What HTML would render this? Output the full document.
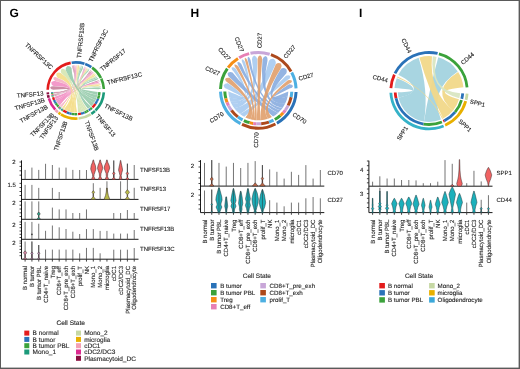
<!DOCTYPE html>
<html><head><meta charset="utf-8"><title>Figure</title>
<style>html,body{margin:0;padding:0;background:#fff;} svg{display:block;will-change:transform;}</style>
</head><body>
<svg width="520" height="369" viewBox="0 0 520 369" text-rendering="geometricPrecision" font-family='"Liberation Sans", sans-serif'>
<rect width="520" height="369" fill="#fff"/>
<defs><filter id="soft" x="0" y="0" width="1" height="1"><feGaussianBlur stdDeviation="0.3"/></filter></defs>
<g filter="url(#soft)">
<rect width="520" height="369" fill="#fff"/>
<path d="M53.85 92.03 A22 22 0 0 0 53.92 92.8 Q80.67 91.96 73.27 67.94 Q72.93 65.46 72.51 64.89 Q72.24 65.55 72.54 68.03 Q80.84 92.1 53.85 92.03 Z" fill="#c0708e" fill-opacity="0.8"/>
<path d="M53.92 92.8 A22 22 0 0 0 54.01 93.56 Q77.04 90.78 89.69 72.55 Q91.17 70.53 91.25 69.8 Q90.58 70.09 89.06 72.08 Q77.2 91.05 53.92 92.8 Z" fill="#c0708e" fill-opacity="0.8"/>
<path d="M54.1 94.13 A22 22 0 0 0 54.2 94.69 Q84.95 87.53 53.52 86.15 Q51.01 85.97 50.14 87.62 Q50.62 89.42 53.11 89.81 Q85.07 86.85 54.1 94.13 Z" fill="#c0708e" fill-opacity="0.8"/>
<path d="M54.2 94.69 A22 22 0 0 0 54.28 95.09 Q80.38 91.47 74.22 67.86 Q73.98 65.37 73.57 64.77 Q73.27 65.43 73.46 67.92 Q80.57 91.55 54.2 94.69 Z" fill="#c0708e" fill-opacity="0.8"/>
<path d="M54.28 95.09 A22 22 0 0 0 54.35 95.41 Q78.23 91.08 83.94 69.31 Q84.8 66.96 84.79 66.29 Q84.35 66.8 83.47 69.14 Q78.35 91.19 54.28 95.09 Z" fill="#c0708e" fill-opacity="0.8"/>
<path d="M54.35 95.41 A22 22 0 0 0 54.45 95.8 Q76.77 90.14 90.47 73.18 Q92.04 71.23 92.14 70.5 Q91.45 70.75 89.85 72.67 Q76.93 90.34 54.35 95.41 Z" fill="#c0708e" fill-opacity="0.8"/>
<path d="M54.45 95.8 A22 22 0 0 0 54.55 96.19 Q75.36 88.16 96.77 81.82 Q99.06 80.79 99.46 80.15 Q98.72 80.02 96.41 81 Q75.46 88.42 54.45 95.8 Z" fill="#c0708e" fill-opacity="0.8"/>
<path d="M54.71 96.75 A22 22 0 0 0 55.65 99.32 Q84.28 87.63 55.15 81.07 Q52.7 80.42 51.25 82.5 Q51.2 85.04 53.56 85.96 Q84.83 87.12 54.71 96.75 Z" fill="#f080bc" fill-opacity="0.8"/>
<path d="M55.65 99.32 A22 22 0 0 0 56.51 101.08 Q79.6 90.17 75.53 67.8 Q75.41 65.3 74.86 64.69 Q74.36 65.34 74.42 67.84 Q80.04 90.54 55.65 99.32 Z" fill="#f080bc" fill-opacity="0.8"/>
<path d="M56.51 101.08 A22 22 0 0 0 57.31 102.42 Q77.38 89.46 84.83 69.67 Q85.76 67.35 85.67 66.64 Q85.1 67.08 84.12 69.38 Q77.71 89.82 56.51 101.08 Z" fill="#f080bc" fill-opacity="0.8"/>
<path d="M57.31 102.42 A22 22 0 0 0 58.44 104.02 Q75.66 88.13 91.51 74.11 Q93.16 72.24 93.17 71.39 Q92.33 71.48 90.62 73.31 Q76.11 88.66 57.31 102.42 Z" fill="#f080bc" fill-opacity="0.8"/>
<path d="M58.44 104.02 A22 22 0 0 0 59.71 105.5 Q74.11 85.8 97.3 83.23 Q99.64 82.33 100.02 81.53 Q99.21 81.17 96.85 82 Q74.49 86.4 58.44 104.02 Z" fill="#f080bc" fill-opacity="0.8"/>
<path d="M59.97 105.78 A22 22 0 0 0 60.45 106.26 Q82.79 86.86 57.1 77.64 Q54.86 76.48 53.39 77.67 Q53.1 79.55 55.23 80.89 Q83.31 86.25 59.97 105.78 Z" fill="#f4a8bc" fill-opacity="0.8"/>
<path d="M60.45 106.26 A22 22 0 0 0 60.8 106.59 Q78.45 88.95 76.5 67.81 Q76.52 65.31 76.16 64.68 Q75.79 65.3 75.73 67.8 Q78.69 89.03 60.45 106.26 Z" fill="#f4a8bc" fill-opacity="0.8"/>
<path d="M60.8 106.59 A22 22 0 0 0 61.08 106.85 Q76.41 88.42 85.47 69.96 Q86.5 67.68 86.54 67.01 Q86.06 67.48 85.01 69.75 Q76.58 88.52 60.8 106.59 Z" fill="#f4a8bc" fill-opacity="0.8"/>
<path d="M61.08 106.85 A22 22 0 0 0 61.44 107.17 Q74.84 87.28 92.23 74.84 Q93.99 73.06 94.16 72.34 Q93.44 72.51 91.65 74.25 Q75.05 87.48 61.08 106.85 Z" fill="#f4a8bc" fill-opacity="0.8"/>
<path d="M61.44 107.17 A22 22 0 0 0 61.81 107.48 Q73.57 85.13 97.64 84.29 Q100.02 83.54 100.49 82.94 Q99.77 82.71 97.37 83.42 Q73.71 85.39 61.44 107.17 Z" fill="#f4a8bc" fill-opacity="0.8"/>
<path d="M62.26 107.84 A22 22 0 0 0 63.02 108.41 Q77.75 88.54 77.45 67.86 Q77.57 65.36 77.25 64.72 Q76.86 65.32 76.7 67.82 Q78.08 88.68 62.26 107.84 Z" fill="#f2d46c" fill-opacity="0.8"/>
<path d="M63.02 108.41 A22 22 0 0 0 63.82 108.95 Q74.17 86.72 92.9 75.58 Q94.74 73.88 94.96 73.18 Q94.24 73.32 92.37 74.98 Q74.47 86.97 63.02 108.41 Z" fill="#f2d46c" fill-opacity="0.8"/>
<path d="M64.14 109.16 A22 22 0 0 0 67.4 110.83 Q80.38 86.83 61.09 73.21 Q59.1 71.62 56.7 73.12 Q55.44 75.65 57.21 77.48 Q81.95 86.26 64.14 109.16 Z" fill="#f2d878" fill-opacity="0.8"/>
<path d="M67.4 110.83 A22 22 0 0 0 69.88 111.69 Q75.92 87.79 78.91 68.01 Q79.15 65.52 78.62 64.83 Q77.95 65.39 77.65 67.88 Q76.74 88 67.4 110.83 Z" fill="#f2d878" fill-opacity="0.8"/>
<path d="M69.88 111.69 A22 22 0 0 0 71.92 112.16 Q73.81 87.15 86.43 70.44 Q87.54 68.2 87.45 67.45 Q86.8 67.83 85.65 70.05 Q74.44 87.34 69.88 111.69 Z" fill="#f2d878" fill-opacity="0.8"/>
<path d="M71.92 112.16 A22 22 0 0 0 74.52 112.46 Q71.6 85.69 93.89 76.78 Q95.81 75.18 95.9 74.28 Q95.01 74.18 93.03 75.73 Q72.36 85.99 71.92 112.16 Z" fill="#f2d878" fill-opacity="0.8"/>
<path d="M74.52 112.46 A22 22 0 0 0 77.14 112.46 Q70.11 83.67 98.04 85.93 Q100.46 85.31 100.91 84.48 Q100.13 83.94 97.69 84.48 Q70.77 83.99 74.52 112.46 Z" fill="#f2d878" fill-opacity="0.8"/>
<path d="M77.91 112.4 A22 22 0 0 0 80.61 111.97 Q76.5 87.23 65.53 70.26 Q64.02 68.22 61.58 68.94 Q59.97 70.89 61.24 73.08 Q78.04 86.51 77.91 112.4 Z" fill="#cfe2a8" fill-opacity="0.8"/>
<path d="M80.61 111.97 A22 22 0 0 0 82.5 111.45 Q72.86 87.79 80.21 68.23 Q80.6 65.76 80.19 65.05 Q79.56 65.58 79.11 68.04 Q73.51 87.72 80.61 111.97 Z" fill="#cfe2a8" fill-opacity="0.8"/>
<path d="M82.5 111.45 A22 22 0 0 0 83.97 110.93 Q70.98 87.32 87.27 70.91 Q88.48 68.72 88.47 68 Q87.85 68.37 86.61 70.54 Q71.45 87.28 82.5 111.45 Z" fill="#cfe2a8" fill-opacity="0.8"/>
<path d="M83.97 110.93 A22 22 0 0 0 85.75 110.12 Q68.95 85.95 94.69 77.91 Q96.72 76.44 96.91 75.62 Q96.07 75.53 94 76.94 Q69.5 85.99 83.97 110.93 Z" fill="#cfe2a8" fill-opacity="0.8"/>
<path d="M85.75 110.12 A22 22 0 0 0 87.46 109.16 Q67.79 84.07 98.29 87.42 Q100.75 86.97 101.27 86.26 Q100.55 85.75 98.07 86.13 Q68.21 84.15 85.75 110.12 Z" fill="#cfe2a8" fill-opacity="0.8"/>
<path d="M87.94 108.85 A22 22 0 0 0 89.42 107.78 Q71.11 88.55 81.21 68.45 Q81.74 66.01 81.49 65.31 Q80.98 65.84 80.4 68.27 Q71.62 88.35 87.94 108.85 Z" fill="#80c09c" fill-opacity="0.8"/>
<path d="M89.42 107.78 A22 22 0 0 0 90.8 106.59 Q67.72 86.53 95.27 78.83 Q97.37 77.48 97.69 76.79 Q96.93 76.77 94.8 78.08 Q68.12 86.43 89.42 107.78 Z" fill="#80c09c" fill-opacity="0.8"/>
<path d="M91.22 106.19 A22 22 0 0 0 93.97 102.91 Q72.23 89.68 71.57 68.2 Q70.59 65.84 67.57 66.02 Q65.06 67.7 65.71 70.17 Q74.13 88.52 91.22 106.19 Z" fill="#88c4a0" fill-opacity="0.8"/>
<path d="M93.97 102.91 A22 22 0 0 0 95.51 100.26 Q69.44 90.11 82.72 68.88 Q83.37 66.46 82.92 65.68 Q82.13 66.11 81.4 68.5 Q70.07 89.61 93.97 102.91 Z" fill="#88c4a0" fill-opacity="0.8"/>
<path d="M95.51 100.26 A22 22 0 0 0 96.48 98.01 Q68.01 90.02 88.25 71.52 Q89.55 69.38 89.5 68.61 Q88.79 68.91 87.44 71.01 Q68.4 89.64 95.51 100.26 Z" fill="#88c4a0" fill-opacity="0.8"/>
<path d="M96.48 98.01 A22 22 0 0 0 97.32 95.07 Q66.11 88.74 96.07 80.28 Q98.25 79.05 98.47 78.14 Q97.59 77.84 95.37 79 Q66.45 88.38 96.48 98.01 Z" fill="#88c4a0" fill-opacity="0.8"/>
<path d="M97.32 95.07 A22 22 0 0 0 97.75 92.03 Q65.49 87.45 98.46 89.21 Q100.95 88.94 101.52 88.12 Q100.81 87.43 98.32 87.61 Q65.61 87.13 97.32 95.07 Z" fill="#88c4a0" fill-opacity="0.8"/>
<path d="M46.47 92.55 A29.4 29.4 0 0 0 46.69 94.59 L49.26 94.23 A26.8 26.8 0 0 1 49.07 92.37Z" fill="#8a0d40"/>
<path d="M46.8 95.35 A29.4 29.4 0 0 0 47.4 98.11 L49.91 97.44 A26.8 26.8 0 0 1 49.37 94.92Z" fill="#8a0d40"/>
<path d="M47.61 98.85 A29.4 29.4 0 0 0 54.3 110.55 L56.2 108.78 A26.8 26.8 0 0 1 50.1 98.11Z" fill="#dc2a90"/>
<path d="M54.65 110.92 A29.4 29.4 0 0 0 57.1 113.19 L58.75 111.18 A26.8 26.8 0 0 1 56.52 109.12Z" fill="#f4a0b4"/>
<path d="M57.7 113.67 A29.4 29.4 0 0 0 59.79 115.16 L61.2 112.98 A26.8 26.8 0 0 1 59.3 111.62Z" fill="#e8b000"/>
<path d="M60.22 115.43 A29.4 29.4 0 0 0 77.59 119.85 L77.44 117.25 A26.8 26.8 0 0 1 61.6 113.23Z" fill="#e8b000"/>
<path d="M78.62 119.76 A29.4 29.4 0 0 0 91.38 115.43 L90 113.23 A26.8 26.8 0 0 1 78.37 117.18Z" fill="#c6d8a4"/>
<path d="M92.03 115.02 A29.4 29.4 0 0 0 95.85 112 L94.08 110.1 A26.8 26.8 0 0 1 90.59 112.85Z" fill="#1b9a7a"/>
<path d="M96.41 111.47 A29.4 29.4 0 0 0 105.13 92.55 L102.53 92.37 A26.8 26.8 0 0 1 94.58 109.62Z" fill="#1b9a7a"/>
<path d="M46.41 89.73 A29.4 29.4 0 0 1 70.44 61.59 L70.92 64.15 A26.8 26.8 0 0 0 49.01 89.8Z" fill="#e31a1c"/>
<path d="M71.45 61.42 A29.4 29.4 0 0 1 84.89 62.54 L84.08 65.01 A26.8 26.8 0 0 0 71.84 63.99Z" fill="#2a72b8"/>
<path d="M85.61 62.79 A29.4 29.4 0 0 1 92.03 65.98 L90.59 68.15 A26.8 26.8 0 0 0 84.75 65.24Z" fill="#2a72b8"/>
<path d="M92.87 66.57 A29.4 29.4 0 0 1 102.11 77.38 L99.78 78.54 A26.8 26.8 0 0 0 91.36 68.68Z" fill="#3aa23a"/>
<path d="M102.45 78.08 A29.4 29.4 0 0 1 105.16 88.96 L102.56 89.1 A26.8 26.8 0 0 0 100.09 79.17Z" fill="#3aa23a"/>
<path d="M50.96 92.24 A24.9 24.9 0 0 0 51.04 93.1 L53.42 92.85 A22.5 22.5 0 0 1 53.35 92.07Z" fill="#2a72b8"/>
<path d="M51.04 93.1 A24.9 24.9 0 0 0 51.14 93.97 L53.52 93.63 A22.5 22.5 0 0 1 53.42 92.85Z" fill="#3aa23a"/>
<path d="M51.24 94.61 A24.9 24.9 0 0 0 51.36 95.24 L53.71 94.79 A22.5 22.5 0 0 1 53.61 94.21Z" fill="#e31a1c"/>
<path d="M51.36 95.24 A24.9 24.9 0 0 0 51.45 95.69 L53.79 95.19 A22.5 22.5 0 0 1 53.71 94.79Z" fill="#2a72b8"/>
<path d="M51.45 95.69 A24.9 24.9 0 0 0 51.53 96.05 L53.87 95.52 A22.5 22.5 0 0 1 53.79 95.19Z" fill="#2a72b8"/>
<path d="M51.53 96.05 A24.9 24.9 0 0 0 51.63 96.5 L53.96 95.92 A22.5 22.5 0 0 1 53.87 95.52Z" fill="#3aa23a"/>
<path d="M51.63 96.5 A24.9 24.9 0 0 0 51.75 96.94 L54.07 96.32 A22.5 22.5 0 0 1 53.96 95.92Z" fill="#3aa23a"/>
<path d="M51.93 97.57 A24.9 24.9 0 0 0 52.99 100.48 L55.19 99.52 A22.5 22.5 0 0 1 54.23 96.89Z" fill="#e31a1c"/>
<path d="M52.99 100.48 A24.9 24.9 0 0 0 53.97 102.47 L56.07 101.32 A22.5 22.5 0 0 1 55.19 99.52Z" fill="#2a72b8"/>
<path d="M53.97 102.47 A24.9 24.9 0 0 0 54.87 103.99 L56.89 102.69 A22.5 22.5 0 0 1 56.07 101.32Z" fill="#2a72b8"/>
<path d="M54.87 103.99 A24.9 24.9 0 0 0 56.15 105.8 L58.05 104.32 A22.5 22.5 0 0 1 56.89 102.69Z" fill="#3aa23a"/>
<path d="M56.15 105.8 A24.9 24.9 0 0 0 57.59 107.48 L59.34 105.84 A22.5 22.5 0 0 1 58.05 104.32Z" fill="#3aa23a"/>
<path d="M57.89 107.8 A24.9 24.9 0 0 0 58.43 108.34 L60.1 106.62 A22.5 22.5 0 0 1 59.61 106.13Z" fill="#e31a1c"/>
<path d="M58.43 108.34 A24.9 24.9 0 0 0 58.82 108.71 L60.46 106.96 A22.5 22.5 0 0 1 60.1 106.62Z" fill="#2a72b8"/>
<path d="M58.82 108.71 A24.9 24.9 0 0 0 59.14 109 L60.74 107.22 A22.5 22.5 0 0 1 60.46 106.96Z" fill="#2a72b8"/>
<path d="M59.14 109 A24.9 24.9 0 0 0 59.55 109.36 L61.11 107.55 A22.5 22.5 0 0 1 60.74 107.22Z" fill="#3aa23a"/>
<path d="M59.55 109.36 A24.9 24.9 0 0 0 59.96 109.71 L61.49 107.86 A22.5 22.5 0 0 1 61.11 107.55Z" fill="#3aa23a"/>
<path d="M60.47 110.12 A24.9 24.9 0 0 0 61.34 110.77 L62.73 108.82 A22.5 22.5 0 0 1 61.95 108.23Z" fill="#2a72b8"/>
<path d="M61.34 110.77 A24.9 24.9 0 0 0 62.24 111.38 L63.55 109.37 A22.5 22.5 0 0 1 62.73 108.82Z" fill="#3aa23a"/>
<path d="M62.61 111.62 A24.9 24.9 0 0 0 66.29 113.51 L67.21 111.3 A22.5 22.5 0 0 1 63.88 109.58Z" fill="#e31a1c"/>
<path d="M66.29 113.51 A24.9 24.9 0 0 0 69.1 114.48 L69.74 112.17 A22.5 22.5 0 0 1 67.21 111.3Z" fill="#2a72b8"/>
<path d="M69.1 114.48 A24.9 24.9 0 0 0 71.41 115.01 L71.83 112.65 A22.5 22.5 0 0 1 69.74 112.17Z" fill="#2a72b8"/>
<path d="M71.41 115.01 A24.9 24.9 0 0 0 74.35 115.36 L74.49 112.96 A22.5 22.5 0 0 1 71.83 112.65Z" fill="#3aa23a"/>
<path d="M74.35 115.36 A24.9 24.9 0 0 0 77.32 115.35 L77.17 112.96 A22.5 22.5 0 0 1 74.49 112.96Z" fill="#3aa23a"/>
<path d="M78.19 115.29 A24.9 24.9 0 0 0 81.25 114.8 L80.72 112.46 A22.5 22.5 0 0 1 77.96 112.9Z" fill="#e31a1c"/>
<path d="M81.25 114.8 A24.9 24.9 0 0 0 83.38 114.22 L82.65 111.93 A22.5 22.5 0 0 1 80.72 112.46Z" fill="#2a72b8"/>
<path d="M83.38 114.22 A24.9 24.9 0 0 0 85.05 113.62 L84.16 111.39 A22.5 22.5 0 0 1 82.65 111.93Z" fill="#2a72b8"/>
<path d="M85.05 113.62 A24.9 24.9 0 0 0 87.07 112.71 L85.98 110.56 A22.5 22.5 0 0 1 84.16 111.39Z" fill="#3aa23a"/>
<path d="M87.07 112.71 A24.9 24.9 0 0 0 88.99 111.62 L87.72 109.58 A22.5 22.5 0 0 1 85.98 110.56Z" fill="#3aa23a"/>
<path d="M89.54 111.26 A24.9 24.9 0 0 0 91.22 110.05 L89.73 108.17 A22.5 22.5 0 0 1 88.22 109.26Z" fill="#2a72b8"/>
<path d="M91.22 110.05 A24.9 24.9 0 0 0 92.78 108.71 L91.14 106.96 A22.5 22.5 0 0 1 89.73 108.17Z" fill="#3aa23a"/>
<path d="M93.25 108.26 A24.9 24.9 0 0 0 96.36 104.54 L94.38 103.19 A22.5 22.5 0 0 1 91.57 106.55Z" fill="#e31a1c"/>
<path d="M96.36 104.54 A24.9 24.9 0 0 0 98.11 101.55 L95.96 100.49 A22.5 22.5 0 0 1 94.38 103.19Z" fill="#2a72b8"/>
<path d="M98.11 101.55 A24.9 24.9 0 0 0 99.2 99 L96.95 98.18 A22.5 22.5 0 0 1 95.96 100.49Z" fill="#2a72b8"/>
<path d="M99.2 99 A24.9 24.9 0 0 0 100.16 95.67 L97.81 95.17 A22.5 22.5 0 0 1 96.95 98.18Z" fill="#3aa23a"/>
<path d="M100.16 95.67 A24.9 24.9 0 0 0 100.64 92.24 L98.25 92.07 A22.5 22.5 0 0 1 97.81 95.17Z" fill="#3aa23a"/>
<text x="50.55" y="69.92" font-size="6.2" text-anchor="end" font-weight="normal" fill="#262626" stroke="#262626" stroke-width="0.12" transform="rotate(43 50.55 69.92)">TNFRSF13C</text>
<text x="81.07" y="58.36" font-size="6.2" text-anchor="start" font-weight="normal" fill="#262626" stroke="#262626" stroke-width="0.12" transform="rotate(-84.5 81.07 58.36)">TNFRSF13B</text>
<text x="92.24" y="62.38" font-size="6.2" text-anchor="start" font-weight="normal" fill="#262626" stroke="#262626" stroke-width="0.12" transform="rotate(-63.5 92.24 62.38)">TNFRSF13C</text>
<text x="102.26" y="71.5" font-size="6.2" text-anchor="start" font-weight="normal" fill="#262626" stroke="#262626" stroke-width="0.12" transform="rotate(-39.5 102.26 71.5)">TNFRSF17</text>
<text x="107.86" y="84.74" font-size="6.2" text-anchor="start" font-weight="normal" fill="#262626" stroke="#262626" stroke-width="0.12" transform="rotate(-14 107.86 84.74)">TNFRSF13C</text>
<text x="103.77" y="107.19" font-size="6.2" text-anchor="start" font-weight="normal" fill="#262626" stroke="#262626" stroke-width="0.12" transform="rotate(-333 103.77 107.19)">TNFSF13B</text>
<text x="95.26" y="116.62" font-size="6.2" text-anchor="start" font-weight="normal" fill="#262626" stroke="#262626" stroke-width="0.12" transform="rotate(-310.5 95.26 116.62)">TNFSF13</text>
<text x="84.6" y="121.86" font-size="6.2" text-anchor="start" font-weight="normal" fill="#262626" stroke="#262626" stroke-width="0.12" transform="rotate(-289.5 84.6 121.86)">TNFSF13B</text>
<text x="67.55" y="122.01" font-size="6.2" text-anchor="end" font-weight="normal" fill="#262626" stroke="#262626" stroke-width="0.12" transform="rotate(-71.5 67.55 122.01)">TNFSF13B</text>
<text x="58.45" y="118.07" font-size="6.2" text-anchor="end" font-weight="normal" fill="#262626" stroke="#262626" stroke-width="0.12" transform="rotate(-54 58.45 118.07)">TNFSF13</text>
<text x="54.57" y="115.2" font-size="6.2" text-anchor="end" font-weight="normal" fill="#262626" stroke="#262626" stroke-width="0.12" transform="rotate(-45.5 54.57 115.2)">TNFSF13B</text>
<text x="48.43" y="108.15" font-size="6.2" text-anchor="end" font-weight="normal" fill="#262626" stroke="#262626" stroke-width="0.12" transform="rotate(-29 48.43 108.15)">TNFSF13B</text>
<text x="45.25" y="101.81" font-size="6.2" text-anchor="end" font-weight="normal" fill="#262626" stroke="#262626" stroke-width="0.12" transform="rotate(-16.5 45.25 101.81)">TNFSF13B</text>
<text x="43.61" y="95.49" font-size="6.2" text-anchor="end" font-weight="normal" fill="#262626" stroke="#262626" stroke-width="0.12" transform="rotate(-5 43.61 95.49)">TNFSF13</text>
<path d="M228.32 91.35 A30 30 0 0 0 229.19 97.56 Q258.3 104.3 227.83 83.15 Q224.8 82.94 223.57 85.56 Q224.05 88.41 227.03 89.02 Q258.3 104.3 228.32 91.35 Z" fill="#a6caf0" fill-opacity="0.9"/>
<path d="M229.19 97.56 A30 30 0 0 0 230.33 101.15 Q258.3 104.3 235.72 68.63 Q233.35 66.76 231.68 67.5 Q231.21 69.26 233.42 71.31 Q258.3 104.3 229.19 97.56 Z" fill="#a6caf0" fill-opacity="0.9"/>
<path d="M230.33 101.15 A30 30 0 0 0 231.62 104.01 Q258.3 104.3 245.03 61.95 Q243.56 59.33 242.05 59.24 Q241.27 60.53 242.58 63.23 Q258.3 104.3 230.33 101.15 Z" fill="#a6caf0" fill-opacity="0.9"/>
<path d="M231.62 104.01 A30 30 0 0 0 234.28 108.27 Q258.3 104.3 257.19 59.02 Q256.66 56.04 254.13 55.5 Q251.8 56.62 251.98 59.64 Q258.3 104.3 231.62 104.01 Z" fill="#a6caf0" fill-opacity="0.9"/>
<path d="M234.28 108.27 A30 30 0 0 0 240 114.07 Q258.3 104.3 275.5 64.15 Q276.64 61.31 273.99 58.96 Q270.51 58.25 268.93 60.86 Q258.3 104.3 234.28 108.27 Z" fill="#a6caf0" fill-opacity="0.9"/>
<path d="M240 114.07 A30 30 0 0 0 244.22 116.79 Q258.3 104.3 287.79 79.8 Q290.49 78.45 290.41 76.25 Q288.85 74.7 286.03 75.77 Q258.3 104.3 240 114.07 Z" fill="#a6caf0" fill-opacity="0.9"/>
<path d="M273.07 116.41 A30 30 0 0 0 278.02 112.91 Q258.3 104.3 232.55 72.5 Q229.82 71.19 227.76 73.1 Q227.19 75.85 229.73 77.5 Q258.3 104.3 273.07 116.41 Z" fill="#88acdf" fill-opacity="0.9"/>
<path d="M278.02 112.91 A30 30 0 0 0 280.62 110.35 Q258.3 104.3 241.32 64.01 Q239.46 61.64 237.71 61.94 Q236.88 63.51 238.55 66.02 Q258.3 104.3 278.02 112.91 Z" fill="#88acdf" fill-opacity="0.9"/>
<path d="M280.62 110.35 A30 30 0 0 0 282.53 107.99 Q258.3 104.3 250.54 59.98 Q249.59 57.13 248.17 56.75 Q247.19 57.85 247.98 60.75 Q258.3 104.3 280.62 110.35 Z" fill="#88acdf" fill-opacity="0.9"/>
<path d="M282.53 107.99 A30 30 0 0 0 285.06 103.85 Q258.3 104.3 267.53 60.39 Q268.01 57.4 265.88 56.08 Q263.38 56.38 262.56 59.29 Q258.3 104.3 282.53 107.99 Z" fill="#88acdf" fill-opacity="0.9"/>
<path d="M285.06 103.85 A30 30 0 0 0 287.67 96.42 Q258.3 104.3 285.31 74.48 Q287.6 72.47 286.33 69.26 Q283.61 67.15 281.03 68.79 Q258.3 104.3 285.06 103.85 Z" fill="#88acdf" fill-opacity="0.9"/>
<path d="M287.67 96.42 A30 30 0 0 0 288.27 91.61 Q258.3 104.3 289.55 88.47 Q292.52 87.95 293.07 85.88 Q292.02 84.01 289.01 84.25 Q258.3 104.3 287.67 96.42 Z" fill="#88acdf" fill-opacity="0.9"/>
<path d="M245.38 117.38 A30 30 0 0 0 250.54 119.28 Q258.3 104.3 229.58 77.85 Q226.66 77.06 225.09 79.08 Q225.11 81.65 227.92 82.78 Q258.3 104.3 245.38 117.38 Z" fill="#e09e6c" fill-opacity="0.9"/>
<path d="M250.54 119.28 A30 30 0 0 0 253.76 119.95 Q258.3 104.3 238.26 66.26 Q236.14 64.12 234.55 64.52 Q234.02 66.07 235.98 68.35 Q258.3 104.3 250.54 119.28 Z" fill="#e09e6c" fill-opacity="0.9"/>
<path d="M253.76 119.95 A30 30 0 0 0 256.49 120.25 Q258.3 104.3 247.62 60.88 Q246.41 58.13 245.08 57.84 Q244.32 58.98 245.38 61.79 Q258.3 104.3 253.76 119.95 Z" fill="#e09e6c" fill-opacity="0.9"/>
<path d="M256.49 120.25 A30 30 0 0 0 260.89 120.19 Q258.3 104.3 262.18 59.24 Q262.17 56.22 260.07 55.29 Q257.89 56 257.58 59.01 Q258.3 104.3 256.49 120.25 Z" fill="#e09e6c" fill-opacity="0.9"/>
<path d="M260.89 120.19 A30 30 0 0 0 267.87 118.73 Q258.3 104.3 280.77 68.51 Q282.55 66.04 280.81 63.43 Q277.93 62.17 275.81 64.36 Q258.3 104.3 260.89 120.19 Z" fill="#e09e6c" fill-opacity="0.9"/>
<path d="M267.87 118.73 A30 30 0 0 0 271.92 117.03 Q258.3 104.3 288.93 83.87 Q291.8 82.95 292.1 81.01 Q290.85 79.49 287.91 80.16 Q258.3 104.3 267.87 118.73 Z" fill="#e09e6c" fill-opacity="0.9"/>
<path d="M219.02 91.67 A39.3 39.3 0 0 0 239.85 125 L241.26 122.35 A36.3 36.3 0 0 1 222.02 91.57Z" fill="#4db0e2"/>
<path d="M241.38 125.77 A39.3 39.3 0 0 0 276.14 125.32 L274.78 122.64 A36.3 36.3 0 0 1 242.67 123.06Z" fill="#ad4a1c"/>
<path d="M277.65 124.5 A39.3 39.3 0 0 0 297.56 92.01 L294.57 91.88 A36.3 36.3 0 0 1 276.17 121.89Z" fill="#2a72b8"/>
<path d="M219.02 88.93 A39.3 39.3 0 0 1 226.11 67.76 L228.56 69.48 A36.3 36.3 0 0 0 222.02 89.03Z" fill="#3aa23a"/>
<path d="M226.91 66.65 A39.3 39.3 0 0 1 237.18 57.15 L238.8 59.68 A36.3 36.3 0 0 0 229.31 68.45Z" fill="#f68e16"/>
<path d="M238.35 56.44 A39.3 39.3 0 0 1 248.79 52.17 L249.52 55.08 A36.3 36.3 0 0 0 239.88 59.02Z" fill="#e77fb4"/>
<path d="M250.13 51.86 A39.3 39.3 0 0 1 270.12 52.82 L269.22 55.68 A36.3 36.3 0 0 0 250.75 54.79Z" fill="#c8a6d8"/>
<path d="M271.42 53.25 A39.3 39.3 0 0 1 292.33 70.65 L289.74 72.15 A36.3 36.3 0 0 0 270.42 56.08Z" fill="#ad4a1c"/>
<path d="M293 71.85 A39.3 39.3 0 0 1 297.55 88.24 L294.55 88.4 A36.3 36.3 0 0 0 290.35 73.26Z" fill="#4db0e2"/>
<path d="M223.32 91.52 A35 35 0 0 0 224.34 98.77 L227.25 98.04 A32 32 0 0 1 226.32 91.42Z" fill="#3aa23a"/>
<path d="M224.34 98.77 A35 35 0 0 0 225.67 102.96 L228.47 101.87 A32 32 0 0 1 227.25 98.04Z" fill="#f68e16"/>
<path d="M225.67 102.96 A35 35 0 0 0 227.17 106.3 L229.84 104.93 A32 32 0 0 1 228.47 101.87Z" fill="#e77fb4"/>
<path d="M227.17 106.3 A35 35 0 0 0 230.27 111.27 L232.68 109.47 A32 32 0 0 1 229.84 104.93Z" fill="#c8a6d8"/>
<path d="M230.27 111.27 A35 35 0 0 0 236.94 118.03 L238.78 115.65 A32 32 0 0 1 232.68 109.47Z" fill="#ad4a1c"/>
<path d="M236.94 118.03 A35 35 0 0 0 241.87 121.2 L243.28 118.55 A32 32 0 0 1 238.78 115.65Z" fill="#4db0e2"/>
<path d="M243.23 121.89 A35 35 0 0 0 249.24 124.11 L250.02 121.21 A32 32 0 0 1 244.52 119.18Z" fill="#3aa23a"/>
<path d="M249.24 124.11 A35 35 0 0 0 253.01 124.9 L253.46 121.93 A32 32 0 0 1 250.02 121.21Z" fill="#f68e16"/>
<path d="M253.01 124.9 A35 35 0 0 0 256.19 125.24 L256.37 122.24 A32 32 0 0 1 253.46 121.93Z" fill="#e77fb4"/>
<path d="M256.19 125.24 A35 35 0 0 0 261.32 125.17 L261.06 122.18 A32 32 0 0 1 256.37 122.24Z" fill="#c8a6d8"/>
<path d="M261.32 125.17 A35 35 0 0 0 269.46 123.47 L268.51 120.63 A32 32 0 0 1 261.06 122.18Z" fill="#ad4a1c"/>
<path d="M269.46 123.47 A35 35 0 0 0 274.19 121.49 L272.83 118.81 A32 32 0 0 1 268.51 120.63Z" fill="#4db0e2"/>
<path d="M275.53 120.76 A35 35 0 0 0 281.31 116.67 L279.34 114.41 A32 32 0 0 1 274.06 118.15Z" fill="#3aa23a"/>
<path d="M281.31 116.67 A35 35 0 0 0 284.33 113.69 L282.1 111.69 A32 32 0 0 1 279.34 114.41Z" fill="#f68e16"/>
<path d="M284.33 113.69 A35 35 0 0 0 286.57 110.94 L284.14 109.17 A32 32 0 0 1 282.1 111.69Z" fill="#e77fb4"/>
<path d="M286.57 110.94 A35 35 0 0 0 289.52 106.11 L286.85 104.76 A32 32 0 0 1 284.14 109.17Z" fill="#c8a6d8"/>
<path d="M289.52 106.11 A35 35 0 0 0 292.56 97.45 L289.63 96.83 A32 32 0 0 1 286.85 104.76Z" fill="#ad4a1c"/>
<path d="M292.56 97.45 A35 35 0 0 0 293.27 91.83 L290.27 91.7 A32 32 0 0 1 289.63 96.83Z" fill="#4db0e2"/>
<text x="218.82" y="75.82" font-size="6" text-anchor="end" font-weight="normal" fill="#262626" stroke="#262626" stroke-width="0.12" transform="rotate(23 218.82 75.82)">CD27</text>
<text x="228.12" y="61.02" font-size="6" text-anchor="end" font-weight="normal" fill="#262626" stroke="#262626" stroke-width="0.12" transform="rotate(47 228.12 61.02)">CD27</text>
<text x="240.29" y="52.3" font-size="6" text-anchor="end" font-weight="normal" fill="#262626" stroke="#262626" stroke-width="0.12" transform="rotate(67.5 240.29 52.3)">CD27</text>
<text x="261.5" y="48.37" font-size="6" text-anchor="start" font-weight="normal" fill="#262626" stroke="#262626" stroke-width="0.12" transform="rotate(-88.5 261.5 48.37)">CD27</text>
<text x="286.36" y="58.98" font-size="6" text-anchor="start" font-weight="normal" fill="#262626" stroke="#262626" stroke-width="0.12" transform="rotate(-51 286.36 58.98)">CD27</text>
<text x="299.25" y="80.74" font-size="6" text-anchor="start" font-weight="normal" fill="#262626" stroke="#262626" stroke-width="0.12" transform="rotate(-16 299.25 80.74)">CD27</text>
<text x="224.22" y="114.94" font-size="6" text-anchor="end" font-weight="normal" fill="#262626" stroke="#262626" stroke-width="0.12" transform="rotate(-33 224.22 114.94)">CD70</text>
<text x="258.57" y="132.35" font-size="6" text-anchor="end" font-weight="normal" fill="#262626" stroke="#262626" stroke-width="0.12" transform="rotate(-87.5 258.57 132.35)">CD70</text>
<text x="291.95" y="115.53" font-size="6" text-anchor="start" font-weight="normal" fill="#262626" stroke="#262626" stroke-width="0.12" transform="rotate(-326 291.95 115.53)">CD70</text>
<path d="M397.84 92.33 A31.2 31.2 0 0 0 398.58 97.64 Q429 90.7 396.76 78.15 A34.6 34.6 0 0 0 394.51 87.93 Q429 90.7 397.84 92.33 Z" fill="#a3d3df" fill-opacity="0.95"/>
<path d="M398.58 97.64 A31.2 31.2 0 0 0 423.98 121.49 Q429 90.7 418.65 57.68 A34.6 34.6 0 0 0 398.34 74.67 Q429 90.7 398.58 97.64 Z" fill="#a3d3df" fill-opacity="0.95"/>
<path d="M423.98 121.49 A31.2 31.2 0 0 0 440.94 119.53 Q429 90.7 457.77 71.48 A34.6 34.6 0 0 0 438.3 57.37 Q429 90.7 423.98 121.49 Z" fill="#a3d3df" fill-opacity="0.95"/>
<path d="M442.19 118.98 A31.2 31.2 0 0 0 443.15 118.51 Q429 90.7 397.49 76.41 A34.6 34.6 0 0 0 397.03 77.47 Q429 90.7 442.19 118.98 Z" fill="#f1d889" fill-opacity="0.95"/>
<path d="M443.15 118.51 A31.2 31.2 0 0 0 453.07 110.55 Q429 90.7 431.98 56.23 A34.6 34.6 0 0 0 419.34 57.47 Q429 90.7 443.15 118.51 Z" fill="#f1d889" fill-opacity="0.95"/>
<path d="M453.07 110.55 A31.2 31.2 0 0 0 458.99 99.3 Q429 90.7 463.43 87.32 A34.6 34.6 0 0 0 458.16 72.08 Q429 90.7 453.07 110.55 Z" fill="#f1d889" fill-opacity="0.95"/>
<path d="M459.27 98.25 A31.2 31.2 0 0 0 460.1 93.15 Q429 90.7 436.43 56.91 A34.6 34.6 0 0 0 432.71 56.3 Q429 90.7 459.27 98.25 Z" fill="#d9e6c2" fill-opacity="0.95"/>
<path d="M389.45 92.77 A39.6 39.6 0 0 0 444.15 127.29 L443.08 124.7 A36.8 36.8 0 0 1 392.25 92.63Z" fill="#34b2c8"/>
<path d="M445.74 126.59 A39.6 39.6 0 0 0 467.07 101.62 L464.37 100.84 A36.8 36.8 0 0 1 444.55 124.05Z" fill="#e8b000"/>
<path d="M467.42 100.28 A39.6 39.6 0 0 0 468.48 93.81 L465.69 93.59 A36.8 36.8 0 0 1 464.71 99.6Z" fill="#c6d8a4"/>
<path d="M389.5 87.94 A39.6 39.6 0 0 1 393.11 73.96 L395.65 75.15 A36.8 36.8 0 0 0 392.29 88.13Z" fill="#e31a1c"/>
<path d="M393.72 72.72 A39.6 39.6 0 0 1 437.91 52.11 L437.28 54.84 A36.8 36.8 0 0 0 396.21 73.99Z" fill="#2a72b8"/>
<path d="M439.25 52.45 A39.6 39.6 0 0 1 468.45 87.25 L465.66 87.49 A36.8 36.8 0 0 0 438.52 55.15Z" fill="#3aa23a"/>
<path d="M393.85 92.54 A35.2 35.2 0 0 0 394.68 98.53 L397.41 97.91 A32.4 32.4 0 0 1 396.64 92.4Z" fill="#e31a1c"/>
<path d="M394.68 98.53 A35.2 35.2 0 0 0 423.34 125.44 L423.79 122.68 A32.4 32.4 0 0 1 397.41 97.91Z" fill="#2a72b8"/>
<path d="M423.34 125.44 A35.2 35.2 0 0 0 442.47 123.22 L441.4 120.63 A32.4 32.4 0 0 1 423.79 122.68Z" fill="#3aa23a"/>
<path d="M443.88 122.6 A35.2 35.2 0 0 0 444.96 122.07 L443.69 119.58 A32.4 32.4 0 0 1 442.69 120.06Z" fill="#e31a1c"/>
<path d="M444.96 122.07 A35.2 35.2 0 0 0 456.15 113.1 L453.99 111.32 A32.4 32.4 0 0 1 443.69 119.58Z" fill="#2a72b8"/>
<path d="M456.15 113.1 A35.2 35.2 0 0 0 462.84 100.4 L460.14 99.63 A32.4 32.4 0 0 1 453.99 111.32Z" fill="#3aa23a"/>
<path d="M463.15 99.22 A35.2 35.2 0 0 0 464.09 93.46 L461.3 93.24 A32.4 32.4 0 0 1 460.44 98.54Z" fill="#2a72b8"/>
<text x="387.25" y="82.46" font-size="6" text-anchor="end" font-weight="normal" fill="#262626" stroke="#262626" stroke-width="0.12" transform="rotate(14 387.25 82.46)">CD44</text>
<text x="408.16" y="53.6" font-size="6" text-anchor="end" font-weight="normal" fill="#262626" stroke="#262626" stroke-width="0.12" transform="rotate(63.5 408.16 53.6)">CD44</text>
<text x="462.91" y="64.99" font-size="6" text-anchor="start" font-weight="normal" fill="#262626" stroke="#262626" stroke-width="0.12" transform="rotate(-40 462.91 64.99)">CD44</text>
<text x="469.62" y="103.37" font-size="6" text-anchor="start" font-weight="normal" fill="#262626" stroke="#262626" stroke-width="0.12" transform="rotate(-345.5 469.62 103.37)">SPP1</text>
<text x="458.11" y="121.73" font-size="6" text-anchor="start" font-weight="normal" fill="#262626" stroke="#262626" stroke-width="0.12" transform="rotate(-316 458.11 121.73)">SPP1</text>
<text x="408.26" y="127.85" font-size="6" text-anchor="end" font-weight="normal" fill="#262626" stroke="#262626" stroke-width="0.12" transform="rotate(-58 408.26 127.85)">SPP1</text>
<text x="9.4" y="16.9" font-size="12" text-anchor="start" font-weight="bold" fill="#000">G</text>
<text x="190.6" y="17" font-size="12" text-anchor="start" font-weight="bold" fill="#000">H</text>
<text x="359" y="16.9" font-size="12" text-anchor="start" font-weight="bold" fill="#000">I</text>
<line x1="21.5" y1="160.4" x2="21.5" y2="259.2" stroke="#1a1a1a" stroke-width="1"/>
<line x1="19.5" y1="162" x2="21.5" y2="162" stroke="#1a1a1a" stroke-width="0.8"/>
<line x1="19.5" y1="166.4" x2="21.5" y2="166.4" stroke="#1a1a1a" stroke-width="0.8"/>
<line x1="19.5" y1="170.8" x2="21.5" y2="170.8" stroke="#1a1a1a" stroke-width="0.8"/>
<line x1="19.5" y1="175.2" x2="21.5" y2="175.2" stroke="#1a1a1a" stroke-width="0.8"/>
<line x1="19.5" y1="183.4" x2="21.5" y2="183.4" stroke="#1a1a1a" stroke-width="0.8"/>
<line x1="19.5" y1="187.5" x2="21.5" y2="187.5" stroke="#1a1a1a" stroke-width="0.8"/>
<line x1="19.5" y1="191.5" x2="21.5" y2="191.5" stroke="#1a1a1a" stroke-width="0.8"/>
<line x1="19.5" y1="195.5" x2="21.5" y2="195.5" stroke="#1a1a1a" stroke-width="0.8"/>
<line x1="19.5" y1="201.4" x2="21.5" y2="201.4" stroke="#1a1a1a" stroke-width="0.8"/>
<line x1="19.5" y1="205.2" x2="21.5" y2="205.2" stroke="#1a1a1a" stroke-width="0.8"/>
<line x1="19.5" y1="209" x2="21.5" y2="209" stroke="#1a1a1a" stroke-width="0.8"/>
<line x1="19.5" y1="212.8" x2="21.5" y2="212.8" stroke="#1a1a1a" stroke-width="0.8"/>
<line x1="19.5" y1="216.5" x2="21.5" y2="216.5" stroke="#1a1a1a" stroke-width="0.8"/>
<line x1="19.5" y1="222" x2="21.5" y2="222" stroke="#1a1a1a" stroke-width="0.8"/>
<line x1="19.5" y1="224.5" x2="21.5" y2="224.5" stroke="#1a1a1a" stroke-width="0.8"/>
<line x1="19.5" y1="227.7" x2="21.5" y2="227.7" stroke="#1a1a1a" stroke-width="0.8"/>
<line x1="19.5" y1="231" x2="21.5" y2="231" stroke="#1a1a1a" stroke-width="0.8"/>
<line x1="19.5" y1="234.3" x2="21.5" y2="234.3" stroke="#1a1a1a" stroke-width="0.8"/>
<line x1="19.5" y1="237.5" x2="21.5" y2="237.5" stroke="#1a1a1a" stroke-width="0.8"/>
<line x1="19.5" y1="241" x2="21.5" y2="241" stroke="#1a1a1a" stroke-width="0.8"/>
<line x1="19.5" y1="243.2" x2="21.5" y2="243.2" stroke="#1a1a1a" stroke-width="0.8"/>
<line x1="19.5" y1="246.2" x2="21.5" y2="246.2" stroke="#1a1a1a" stroke-width="0.8"/>
<line x1="19.5" y1="249.4" x2="21.5" y2="249.4" stroke="#1a1a1a" stroke-width="0.8"/>
<line x1="19.5" y1="252.5" x2="21.5" y2="252.5" stroke="#1a1a1a" stroke-width="0.8"/>
<line x1="19.5" y1="255.7" x2="21.5" y2="255.7" stroke="#1a1a1a" stroke-width="0.8"/>
<line x1="21.5" y1="179.4" x2="138.5" y2="179.4" stroke="#1a1a1a" stroke-width="1.0"/>
<line x1="21.5" y1="199.4" x2="138.5" y2="199.4" stroke="#1a1a1a" stroke-width="1.0"/>
<line x1="21.5" y1="219.3" x2="138.5" y2="219.3" stroke="#1a1a1a" stroke-width="1.0"/>
<line x1="21.5" y1="239.3" x2="138.5" y2="239.3" stroke="#1a1a1a" stroke-width="1.0"/>
<line x1="21.5" y1="259.2" x2="138.5" y2="259.2" stroke="#1a1a1a" stroke-width="1.0"/>
<line x1="25.1" y1="259.2" x2="25.1" y2="261.6" stroke="#1a1a1a" stroke-width="0.8"/>
<line x1="31.92" y1="259.2" x2="31.92" y2="261.6" stroke="#1a1a1a" stroke-width="0.8"/>
<line x1="38.74" y1="259.2" x2="38.74" y2="261.6" stroke="#1a1a1a" stroke-width="0.8"/>
<line x1="45.56" y1="259.2" x2="45.56" y2="261.6" stroke="#1a1a1a" stroke-width="0.8"/>
<line x1="52.38" y1="259.2" x2="52.38" y2="261.6" stroke="#1a1a1a" stroke-width="0.8"/>
<line x1="59.2" y1="259.2" x2="59.2" y2="261.6" stroke="#1a1a1a" stroke-width="0.8"/>
<line x1="66.02" y1="259.2" x2="66.02" y2="261.6" stroke="#1a1a1a" stroke-width="0.8"/>
<line x1="72.84" y1="259.2" x2="72.84" y2="261.6" stroke="#1a1a1a" stroke-width="0.8"/>
<line x1="79.66" y1="259.2" x2="79.66" y2="261.6" stroke="#1a1a1a" stroke-width="0.8"/>
<line x1="86.48" y1="259.2" x2="86.48" y2="261.6" stroke="#1a1a1a" stroke-width="0.8"/>
<line x1="93.3" y1="259.2" x2="93.3" y2="261.6" stroke="#1a1a1a" stroke-width="0.8"/>
<line x1="100.12" y1="259.2" x2="100.12" y2="261.6" stroke="#1a1a1a" stroke-width="0.8"/>
<line x1="106.94" y1="259.2" x2="106.94" y2="261.6" stroke="#1a1a1a" stroke-width="0.8"/>
<line x1="113.76" y1="259.2" x2="113.76" y2="261.6" stroke="#1a1a1a" stroke-width="0.8"/>
<line x1="120.58" y1="259.2" x2="120.58" y2="261.6" stroke="#1a1a1a" stroke-width="0.8"/>
<line x1="127.4" y1="259.2" x2="127.4" y2="261.6" stroke="#1a1a1a" stroke-width="0.8"/>
<line x1="134.22" y1="259.2" x2="134.22" y2="261.6" stroke="#1a1a1a" stroke-width="0.8"/>
<text x="15.6" y="164.2" font-size="6" text-anchor="end" font-weight="normal" fill="#262626" stroke="#262626" stroke-width="0.12">2</text>
<text x="15.8" y="186.9" font-size="6" text-anchor="end" font-weight="normal" fill="#262626" stroke="#262626" stroke-width="0.12">1.5</text>
<text x="15.6" y="205.3" font-size="6" text-anchor="end" font-weight="normal" fill="#262626" stroke="#262626" stroke-width="0.12">2</text>
<text x="15.6" y="226.5" font-size="6" text-anchor="end" font-weight="normal" fill="#262626" stroke="#262626" stroke-width="0.12">2</text>
<text x="15.6" y="245" font-size="6" text-anchor="end" font-weight="normal" fill="#262626" stroke="#262626" stroke-width="0.12">2</text>
<text x="140" y="171.55" font-size="6" text-anchor="start" font-weight="normal" fill="#262626" stroke="#262626" stroke-width="0.12">TNFSF13B</text>
<text x="140" y="191" font-size="6" text-anchor="start" font-weight="normal" fill="#262626" stroke="#262626" stroke-width="0.12">TNFSF13</text>
<text x="140" y="210.95" font-size="6" text-anchor="start" font-weight="normal" fill="#262626" stroke="#262626" stroke-width="0.12">TNFRSF17</text>
<text x="140" y="230.9" font-size="6" text-anchor="start" font-weight="normal" fill="#262626" stroke="#262626" stroke-width="0.12">TNFRSF13B</text>
<text x="140" y="250.85" font-size="6" text-anchor="start" font-weight="normal" fill="#262626" stroke="#262626" stroke-width="0.12">TNFRSF13C</text>
<line x1="25.1" y1="169.9" x2="25.1" y2="179.4" stroke="#505050" stroke-width="0.8"/>
<line x1="31.92" y1="167.6" x2="31.92" y2="179.4" stroke="#505050" stroke-width="0.8"/>
<line x1="38.74" y1="169.9" x2="38.74" y2="179.4" stroke="#505050" stroke-width="0.8"/>
<line x1="45.56" y1="163.8" x2="45.56" y2="179.4" stroke="#505050" stroke-width="0.8"/>
<line x1="52.38" y1="165" x2="52.38" y2="179.4" stroke="#505050" stroke-width="0.8"/>
<line x1="59.2" y1="167.6" x2="59.2" y2="179.4" stroke="#505050" stroke-width="0.8"/>
<line x1="66.02" y1="167.6" x2="66.02" y2="179.4" stroke="#505050" stroke-width="0.8"/>
<line x1="72.84" y1="169.9" x2="72.84" y2="179.4" stroke="#505050" stroke-width="0.8"/>
<line x1="79.66" y1="170" x2="79.66" y2="179.4" stroke="#505050" stroke-width="0.8"/>
<line x1="86.48" y1="170" x2="86.48" y2="179.4" stroke="#505050" stroke-width="0.8"/>
<line x1="113.76" y1="160.5" x2="113.76" y2="179.4" stroke="#505050" stroke-width="0.8"/>
<line x1="127.4" y1="163.7" x2="127.4" y2="179.4" stroke="#505050" stroke-width="0.8"/>
<line x1="134.22" y1="165" x2="134.22" y2="179.4" stroke="#505050" stroke-width="0.8"/>
<path d="M93.1 159.9 L92.4 162.5 L91.22 165.5 L90.7 169 L91.48 171.5 L92.5 174.5 L92.7 176.5 L92 178.3 L91.3 179.4 L95.3 179.4 L94.6 178.3 L93.9 176.5 L94.1 174.5 L95.12 171.5 L95.9 169 L95.38 165.5 L94.2 162.5 L93.5 159.9Z" fill="#f06464" stroke="#3a2a2a" stroke-width="0.55"/>
<path d="M99.92 159.9 L99.22 162.5 L98.04 165.5 L97.52 168.3 L98.3 170.8 L99.32 173.8 L99.52 176.5 L98.82 178.3 L98.12 179.4 L102.12 179.4 L101.42 178.3 L100.72 176.5 L100.92 173.8 L101.94 170.8 L102.72 168.3 L102.2 165.5 L101.02 162.5 L100.32 159.9Z" fill="#f06464" stroke="#3a2a2a" stroke-width="0.55"/>
<path d="M106.74 159.9 L106.04 162.5 L104.7 165.5 L104.14 168 L104.98 170.5 L106.14 173.5 L106.34 176.5 L105.64 178.3 L104.94 179.4 L108.94 179.4 L108.24 178.3 L107.54 176.5 L107.74 173.5 L108.9 170.5 L109.74 168 L109.18 165.5 L107.84 162.5 L107.14 159.9Z" fill="#f06464" stroke="#3a2a2a" stroke-width="0.55"/>
<path d="M120.38 160.4 L119.78 164 L118.98 167.5 L118.58 170.2 L119.28 172.5 L119.98 175.5 L119.58 178.2 L118.78 179.4 L122.38 179.4 L121.58 178.2 L121.18 175.5 L121.88 172.5 L122.58 170.2 L122.18 167.5 L121.38 164 L120.78 160.4Z" fill="#f06464" stroke="#3a2a2a" stroke-width="0.55"/>
<line x1="113.76" y1="160.5" x2="113.76" y2="179.4" stroke="#3a3a3a" stroke-width="0.7"/>
<path d="M113.56 172.06 L112.56 173.5 L113.56 174.94 L113.46 177.42 L111.96 179.4 L115.56 179.4 L114.06 177.42 L113.96 174.94 L114.96 173.5 L113.96 172.06Z" fill="#f06464" stroke="#3a2a2a" stroke-width="0.5"/>
<line x1="127.4" y1="163.7" x2="127.4" y2="179.4" stroke="#3a3a3a" stroke-width="0.7"/>
<path d="M127.2 172.06 L126.2 173.5 L127.2 174.94 L127.1 177.42 L125.6 179.4 L129.2 179.4 L127.7 177.42 L127.6 174.94 L128.6 173.5 L127.6 172.06Z" fill="#f06464" stroke="#3a2a2a" stroke-width="0.5"/>
<line x1="25.1" y1="184.9" x2="25.1" y2="199.4" stroke="#505050" stroke-width="0.8"/>
<line x1="31.92" y1="184.9" x2="31.92" y2="199.4" stroke="#505050" stroke-width="0.8"/>
<line x1="38.74" y1="187.9" x2="38.74" y2="199.4" stroke="#505050" stroke-width="0.8"/>
<line x1="52.38" y1="187.9" x2="52.38" y2="199.4" stroke="#505050" stroke-width="0.8"/>
<line x1="59.2" y1="192" x2="59.2" y2="199.4" stroke="#505050" stroke-width="0.8"/>
<line x1="100.12" y1="187.8" x2="100.12" y2="199.4" stroke="#505050" stroke-width="0.8"/>
<line x1="120.58" y1="181.3" x2="120.58" y2="199.4" stroke="#505050" stroke-width="0.8"/>
<line x1="134.22" y1="187.8" x2="134.22" y2="199.4" stroke="#505050" stroke-width="0.8"/>
<line x1="93.3" y1="183.2" x2="93.3" y2="199.4" stroke="#3a3a3a" stroke-width="0.7"/>
<path d="M93.1 190.74 L92 192.3 L93.1 193.86 L93 196.76 L90.9 199.4 L95.7 199.4 L93.6 196.76 L93.5 193.86 L94.6 192.3 L93.5 190.74Z" fill="#b9bc4c" stroke="#3a2a2a" stroke-width="0.5"/>
<line x1="106.94" y1="181.3" x2="106.94" y2="199.4" stroke="#3a3a3a" stroke-width="0.7"/>
<path d="M106.64 188 L106.24 192 L105.54 195.5 L104.64 197.8 L104.24 199.4 L109.64 199.4 L109.24 197.8 L108.34 195.5 L107.64 192 L107.24 188Z" fill="#b9bc4c" stroke="#3a2a2a" stroke-width="0.55"/>
<line x1="127.4" y1="180" x2="127.4" y2="199.4" stroke="#3a3a3a" stroke-width="0.7"/>
<path d="M127.2 189.78 L125.3 192.3 L127.2 194.82 L127.1 196.76 L125 199.4 L129.8 199.4 L127.7 196.76 L127.6 194.82 L129.5 192.3 L127.6 189.78Z" fill="#b9bc4c" stroke="#3a2a2a" stroke-width="0.5"/>
<line x1="25.1" y1="201.4" x2="25.1" y2="219.3" stroke="#505050" stroke-width="0.8"/>
<line x1="31.92" y1="201.4" x2="31.92" y2="219.3" stroke="#505050" stroke-width="0.8"/>
<line x1="52.38" y1="207.6" x2="52.38" y2="219.3" stroke="#505050" stroke-width="0.8"/>
<line x1="59.2" y1="209.4" x2="59.2" y2="219.3" stroke="#505050" stroke-width="0.8"/>
<line x1="66.02" y1="209.4" x2="66.02" y2="219.3" stroke="#505050" stroke-width="0.8"/>
<line x1="72.84" y1="213" x2="72.84" y2="219.3" stroke="#505050" stroke-width="0.8"/>
<line x1="79.66" y1="213" x2="79.66" y2="219.3" stroke="#505050" stroke-width="0.8"/>
<line x1="86.48" y1="209.4" x2="86.48" y2="219.3" stroke="#505050" stroke-width="0.8"/>
<line x1="113.76" y1="213" x2="113.76" y2="219.3" stroke="#505050" stroke-width="0.8"/>
<line x1="120.58" y1="213" x2="120.58" y2="219.3" stroke="#505050" stroke-width="0.8"/>
<line x1="127.4" y1="210" x2="127.4" y2="219.3" stroke="#505050" stroke-width="0.8"/>
<line x1="134.22" y1="213" x2="134.22" y2="219.3" stroke="#505050" stroke-width="0.8"/>
<line x1="38.74" y1="201.4" x2="38.74" y2="219.3" stroke="#3a3a3a" stroke-width="0.7"/>
<path d="M38.54 212.1 L37.24 213.9 L38.54 215.7 L38.44 217.32 L36.94 219.3 L40.54 219.3 L39.04 217.32 L38.94 215.7 L40.24 213.9 L38.94 212.1Z" fill="#2aa08a" stroke="#3a2a2a" stroke-width="0.5"/>
<line x1="25.1" y1="221.9" x2="25.1" y2="239.3" stroke="#505050" stroke-width="0.8"/>
<line x1="31.92" y1="221.9" x2="31.92" y2="239.3" stroke="#505050" stroke-width="0.8"/>
<line x1="38.74" y1="223.7" x2="38.74" y2="239.3" stroke="#505050" stroke-width="0.8"/>
<line x1="45.56" y1="230.8" x2="45.56" y2="239.3" stroke="#505050" stroke-width="0.8"/>
<line x1="52.38" y1="225.5" x2="52.38" y2="239.3" stroke="#505050" stroke-width="0.8"/>
<line x1="59.2" y1="227.3" x2="59.2" y2="239.3" stroke="#505050" stroke-width="0.8"/>
<line x1="66.02" y1="229" x2="66.02" y2="239.3" stroke="#505050" stroke-width="0.8"/>
<line x1="72.84" y1="231.7" x2="72.84" y2="239.3" stroke="#505050" stroke-width="0.8"/>
<line x1="79.66" y1="234" x2="79.66" y2="239.3" stroke="#505050" stroke-width="0.8"/>
<line x1="86.48" y1="229.1" x2="86.48" y2="239.3" stroke="#505050" stroke-width="0.8"/>
<line x1="93.3" y1="229.1" x2="93.3" y2="239.3" stroke="#505050" stroke-width="0.8"/>
<line x1="100.12" y1="230.9" x2="100.12" y2="239.3" stroke="#505050" stroke-width="0.8"/>
<line x1="106.94" y1="230.9" x2="106.94" y2="239.3" stroke="#505050" stroke-width="0.8"/>
<line x1="113.76" y1="233.6" x2="113.76" y2="239.3" stroke="#505050" stroke-width="0.8"/>
<line x1="120.58" y1="233.6" x2="120.58" y2="239.3" stroke="#505050" stroke-width="0.8"/>
<line x1="127.4" y1="233.6" x2="127.4" y2="239.3" stroke="#505050" stroke-width="0.8"/>
<line x1="134.22" y1="230" x2="134.22" y2="239.3" stroke="#505050" stroke-width="0.8"/>
<circle cx="31.92" cy="234.4" r="0.8" fill="#333"/>
<line x1="31.92" y1="241.5" x2="31.92" y2="259.2" stroke="#505050" stroke-width="0.8"/>
<line x1="38.74" y1="245" x2="38.74" y2="259.2" stroke="#505050" stroke-width="0.8"/>
<line x1="45.56" y1="249.6" x2="45.56" y2="259.2" stroke="#505050" stroke-width="0.8"/>
<line x1="52.38" y1="249.6" x2="52.38" y2="259.2" stroke="#505050" stroke-width="0.8"/>
<line x1="59.2" y1="249.6" x2="59.2" y2="259.2" stroke="#505050" stroke-width="0.8"/>
<line x1="66.02" y1="249.6" x2="66.02" y2="259.2" stroke="#505050" stroke-width="0.8"/>
<line x1="72.84" y1="249.6" x2="72.84" y2="259.2" stroke="#505050" stroke-width="0.8"/>
<line x1="79.66" y1="253.3" x2="79.66" y2="259.2" stroke="#505050" stroke-width="0.8"/>
<line x1="86.48" y1="247.9" x2="86.48" y2="259.2" stroke="#505050" stroke-width="0.8"/>
<line x1="93.3" y1="247.9" x2="93.3" y2="259.2" stroke="#505050" stroke-width="0.8"/>
<line x1="100.12" y1="253.3" x2="100.12" y2="259.2" stroke="#505050" stroke-width="0.8"/>
<line x1="113.76" y1="249.7" x2="113.76" y2="259.2" stroke="#505050" stroke-width="0.8"/>
<line x1="120.58" y1="249.7" x2="120.58" y2="259.2" stroke="#505050" stroke-width="0.8"/>
<line x1="127.4" y1="249.7" x2="127.4" y2="259.2" stroke="#505050" stroke-width="0.8"/>
<line x1="134.22" y1="248" x2="134.22" y2="259.2" stroke="#505050" stroke-width="0.8"/>
<line x1="25.1" y1="241.5" x2="25.1" y2="259.2" stroke="#3a3a3a" stroke-width="0.7"/>
<path d="M24.9 250.88 L23.5 252.8 L24.9 254.72 L24.8 257.44 L23.5 259.2 L26.7 259.2 L25.4 257.44 L25.3 254.72 L26.7 252.8 L25.3 250.88Z" fill="#d88aa8" stroke="#3a2a2a" stroke-width="0.5"/>
<line x1="31.92" y1="241.5" x2="31.92" y2="259.2" stroke="#3a3a3a" stroke-width="0.7"/>
<path d="M31.72 252.08 L30.82 253.4 L31.72 254.72 L31.62 257.6 L30.72 259.2 L33.12 259.2 L32.22 257.6 L32.12 254.72 L33.02 253.4 L32.12 252.08Z" fill="#b890b8" stroke="#3a2a2a" stroke-width="0.5"/>
<line x1="38.74" y1="245" x2="38.74" y2="259.2" stroke="#3a3a3a" stroke-width="0.7"/>
<path d="M38.54 252.08 L37.64 253.4 L38.54 254.72 L38.44 257.6 L37.54 259.2 L39.94 259.2 L39.04 257.6 L38.94 254.72 L39.84 253.4 L38.94 252.08Z" fill="#b890b8" stroke="#3a2a2a" stroke-width="0.5"/>
<text x="27.26" y="266" font-size="6" text-anchor="end" font-weight="normal" fill="#262626" stroke="#262626" stroke-width="0.12" transform="rotate(-90 27.26 266)">B normal</text>
<text x="34.08" y="266" font-size="6" text-anchor="end" font-weight="normal" fill="#262626" stroke="#262626" stroke-width="0.12" transform="rotate(-90 34.08 266)">B tumor</text>
<text x="40.9" y="266" font-size="6" text-anchor="end" font-weight="normal" fill="#262626" stroke="#262626" stroke-width="0.12" transform="rotate(-90 40.9 266)">B tumor PBL</text>
<text x="47.72" y="266" font-size="6" text-anchor="end" font-weight="normal" fill="#262626" stroke="#262626" stroke-width="0.12" transform="rotate(-90 47.72 266)">CD4+T_naive</text>
<text x="54.54" y="266" font-size="6" text-anchor="end" font-weight="normal" fill="#262626" stroke="#262626" stroke-width="0.12" transform="rotate(-90 54.54 266)">Treg</text>
<text x="61.36" y="266" font-size="6" text-anchor="end" font-weight="normal" fill="#262626" stroke="#262626" stroke-width="0.12" transform="rotate(-90 61.36 266)">CD8+T_eff</text>
<text x="68.18" y="266" font-size="6" text-anchor="end" font-weight="normal" fill="#262626" stroke="#262626" stroke-width="0.12" transform="rotate(-90 68.18 266)">CD8+T_pre_exh</text>
<text x="75" y="266" font-size="6" text-anchor="end" font-weight="normal" fill="#262626" stroke="#262626" stroke-width="0.12" transform="rotate(-90 75 266)">CD8+T_exh</text>
<text x="81.82" y="266" font-size="6" text-anchor="end" font-weight="normal" fill="#262626" stroke="#262626" stroke-width="0.12" transform="rotate(-90 81.82 266)">prolif_T</text>
<text x="88.64" y="266" font-size="6" text-anchor="end" font-weight="normal" fill="#262626" stroke="#262626" stroke-width="0.12" transform="rotate(-90 88.64 266)">NK</text>
<text x="95.46" y="266" font-size="6" text-anchor="end" font-weight="normal" fill="#262626" stroke="#262626" stroke-width="0.12" transform="rotate(-90 95.46 266)">Mono_1</text>
<text x="102.28" y="266" font-size="6" text-anchor="end" font-weight="normal" fill="#262626" stroke="#262626" stroke-width="0.12" transform="rotate(-90 102.28 266)">Mono_2</text>
<text x="109.1" y="266" font-size="6" text-anchor="end" font-weight="normal" fill="#262626" stroke="#262626" stroke-width="0.12" transform="rotate(-90 109.1 266)">microglia</text>
<text x="115.92" y="266" font-size="6" text-anchor="end" font-weight="normal" fill="#262626" stroke="#262626" stroke-width="0.12" transform="rotate(-90 115.92 266)">cDC1</text>
<text x="122.74" y="266" font-size="6" text-anchor="end" font-weight="normal" fill="#262626" stroke="#262626" stroke-width="0.12" transform="rotate(-90 122.74 266)">cDC2/DC3</text>
<text x="129.56" y="266" font-size="6" text-anchor="end" font-weight="normal" fill="#262626" stroke="#262626" stroke-width="0.12" transform="rotate(-90 129.56 266)">Plasmacytoid_DC</text>
<text x="136.38" y="266" font-size="6" text-anchor="end" font-weight="normal" fill="#262626" stroke="#262626" stroke-width="0.12" transform="rotate(-90 136.38 266)">Oligodendrocyte</text>
<text x="70.75" y="324.7" font-size="6.6" text-anchor="middle" font-weight="normal" fill="#262626" stroke="#262626" stroke-width="0.12">Cell State</text>
<rect x="24.3" y="330.6" width="5" height="5" fill="#e31a1c"/>
<text x="32.6" y="335.44" font-size="6.5" text-anchor="start" font-weight="normal" fill="#262626" stroke="#262626" stroke-width="0.12">B normal</text>
<rect x="24.3" y="336.9" width="5" height="5" fill="#2a72b8"/>
<text x="32.6" y="341.74" font-size="6.5" text-anchor="start" font-weight="normal" fill="#262626" stroke="#262626" stroke-width="0.12">B tumor</text>
<rect x="24.3" y="343.2" width="5" height="5" fill="#3aa23a"/>
<text x="32.6" y="348.04" font-size="6.5" text-anchor="start" font-weight="normal" fill="#262626" stroke="#262626" stroke-width="0.12">B tumor PBL</text>
<rect x="24.3" y="349.5" width="5" height="5" fill="#1b9a7a"/>
<text x="32.6" y="354.34" font-size="6.5" text-anchor="start" font-weight="normal" fill="#262626" stroke="#262626" stroke-width="0.12">Mono_1</text>
<rect x="76" y="330.6" width="5" height="5" fill="#c6d8a4"/>
<text x="84.2" y="335.44" font-size="6.5" text-anchor="start" font-weight="normal" fill="#262626" stroke="#262626" stroke-width="0.12">Mono_2</text>
<rect x="76" y="336.9" width="5" height="5" fill="#e8b000"/>
<text x="84.2" y="341.74" font-size="6.5" text-anchor="start" font-weight="normal" fill="#262626" stroke="#262626" stroke-width="0.12">microglia</text>
<rect x="76" y="343.2" width="5" height="5" fill="#f4a0b4"/>
<text x="84.2" y="348.04" font-size="6.5" text-anchor="start" font-weight="normal" fill="#262626" stroke="#262626" stroke-width="0.12">cDC1</text>
<rect x="76" y="349.5" width="5" height="5" fill="#dc2a90"/>
<text x="84.2" y="354.34" font-size="6.5" text-anchor="start" font-weight="normal" fill="#262626" stroke="#262626" stroke-width="0.12">cDC2/DC3</text>
<rect x="76" y="355.8" width="5" height="5" fill="#8a0d40"/>
<text x="84.2" y="360.64" font-size="6.5" text-anchor="start" font-weight="normal" fill="#262626" stroke="#262626" stroke-width="0.12">Plasmacytoid_DC</text>
<line x1="200.5" y1="160.1" x2="200.5" y2="212.6" stroke="#1a1a1a" stroke-width="1"/>
<line x1="198.5" y1="161.4" x2="200.5" y2="161.4" stroke="#1a1a1a" stroke-width="0.8"/>
<line x1="198.5" y1="167" x2="200.5" y2="167" stroke="#1a1a1a" stroke-width="0.8"/>
<line x1="198.5" y1="172.5" x2="200.5" y2="172.5" stroke="#1a1a1a" stroke-width="0.8"/>
<line x1="198.5" y1="178" x2="200.5" y2="178" stroke="#1a1a1a" stroke-width="0.8"/>
<line x1="198.5" y1="183.5" x2="200.5" y2="183.5" stroke="#1a1a1a" stroke-width="0.8"/>
<line x1="198.5" y1="189.6" x2="200.5" y2="189.6" stroke="#1a1a1a" stroke-width="0.8"/>
<line x1="198.5" y1="195.1" x2="200.5" y2="195.1" stroke="#1a1a1a" stroke-width="0.8"/>
<line x1="198.5" y1="199.9" x2="200.5" y2="199.9" stroke="#1a1a1a" stroke-width="0.8"/>
<line x1="198.5" y1="204.7" x2="200.5" y2="204.7" stroke="#1a1a1a" stroke-width="0.8"/>
<line x1="198.5" y1="209" x2="200.5" y2="209" stroke="#1a1a1a" stroke-width="0.8"/>
<line x1="200.5" y1="186.1" x2="324.3" y2="186.1" stroke="#1a1a1a" stroke-width="1.0"/>
<line x1="200.5" y1="212.6" x2="324.3" y2="212.6" stroke="#1a1a1a" stroke-width="1.0"/>
<line x1="204.5" y1="212.6" x2="204.5" y2="214.8" stroke="#1a1a1a" stroke-width="0.8"/>
<line x1="211.74" y1="212.6" x2="211.74" y2="214.8" stroke="#1a1a1a" stroke-width="0.8"/>
<line x1="218.98" y1="212.6" x2="218.98" y2="214.8" stroke="#1a1a1a" stroke-width="0.8"/>
<line x1="226.22" y1="212.6" x2="226.22" y2="214.8" stroke="#1a1a1a" stroke-width="0.8"/>
<line x1="233.46" y1="212.6" x2="233.46" y2="214.8" stroke="#1a1a1a" stroke-width="0.8"/>
<line x1="240.7" y1="212.6" x2="240.7" y2="214.8" stroke="#1a1a1a" stroke-width="0.8"/>
<line x1="247.94" y1="212.6" x2="247.94" y2="214.8" stroke="#1a1a1a" stroke-width="0.8"/>
<line x1="255.18" y1="212.6" x2="255.18" y2="214.8" stroke="#1a1a1a" stroke-width="0.8"/>
<line x1="262.42" y1="212.6" x2="262.42" y2="214.8" stroke="#1a1a1a" stroke-width="0.8"/>
<line x1="269.66" y1="212.6" x2="269.66" y2="214.8" stroke="#1a1a1a" stroke-width="0.8"/>
<line x1="276.9" y1="212.6" x2="276.9" y2="214.8" stroke="#1a1a1a" stroke-width="0.8"/>
<line x1="284.14" y1="212.6" x2="284.14" y2="214.8" stroke="#1a1a1a" stroke-width="0.8"/>
<line x1="291.38" y1="212.6" x2="291.38" y2="214.8" stroke="#1a1a1a" stroke-width="0.8"/>
<line x1="298.62" y1="212.6" x2="298.62" y2="214.8" stroke="#1a1a1a" stroke-width="0.8"/>
<line x1="305.86" y1="212.6" x2="305.86" y2="214.8" stroke="#1a1a1a" stroke-width="0.8"/>
<line x1="313.1" y1="212.6" x2="313.1" y2="214.8" stroke="#1a1a1a" stroke-width="0.8"/>
<line x1="320.34" y1="212.6" x2="320.34" y2="214.8" stroke="#1a1a1a" stroke-width="0.8"/>
<text x="194.2" y="168.3" font-size="6" text-anchor="end" font-weight="normal" fill="#262626" stroke="#262626" stroke-width="0.12">2</text>
<text x="194.2" y="197.2" font-size="6" text-anchor="end" font-weight="normal" fill="#262626" stroke="#262626" stroke-width="0.12">2</text>
<text x="327.5" y="175" font-size="6" text-anchor="start" font-weight="normal" fill="#262626" stroke="#262626" stroke-width="0.12">CD70</text>
<text x="327.5" y="201.6" font-size="6" text-anchor="start" font-weight="normal" fill="#262626" stroke="#262626" stroke-width="0.12">CD27</text>
<line x1="204.5" y1="162.9" x2="204.5" y2="186.1" stroke="#505050" stroke-width="0.8"/>
<line x1="211.74" y1="160.1" x2="211.74" y2="186.1" stroke="#505050" stroke-width="0.8"/>
<line x1="218.98" y1="162.9" x2="218.98" y2="186.1" stroke="#505050" stroke-width="0.8"/>
<line x1="226.22" y1="166.6" x2="226.22" y2="186.1" stroke="#505050" stroke-width="0.8"/>
<line x1="233.46" y1="162.9" x2="233.46" y2="186.1" stroke="#505050" stroke-width="0.8"/>
<line x1="240.7" y1="168" x2="240.7" y2="186.1" stroke="#505050" stroke-width="0.8"/>
<line x1="247.94" y1="162.9" x2="247.94" y2="186.1" stroke="#505050" stroke-width="0.8"/>
<line x1="255.18" y1="161.1" x2="255.18" y2="186.1" stroke="#505050" stroke-width="0.8"/>
<line x1="262.42" y1="165.1" x2="262.42" y2="186.1" stroke="#505050" stroke-width="0.8"/>
<line x1="269.66" y1="169.4" x2="269.66" y2="186.1" stroke="#505050" stroke-width="0.8"/>
<line x1="276.9" y1="171.8" x2="276.9" y2="186.1" stroke="#505050" stroke-width="0.8"/>
<line x1="284.14" y1="178.6" x2="284.14" y2="186.1" stroke="#505050" stroke-width="0.8"/>
<line x1="291.38" y1="171.8" x2="291.38" y2="186.1" stroke="#505050" stroke-width="0.8"/>
<line x1="298.62" y1="174.9" x2="298.62" y2="186.1" stroke="#505050" stroke-width="0.8"/>
<line x1="305.86" y1="165.1" x2="305.86" y2="186.1" stroke="#505050" stroke-width="0.8"/>
<line x1="313.1" y1="178.6" x2="313.1" y2="186.1" stroke="#505050" stroke-width="0.8"/>
<line x1="320.34" y1="170" x2="320.34" y2="186.1" stroke="#505050" stroke-width="0.8"/>
<line x1="211.74" y1="160.1" x2="211.74" y2="186.1" stroke="#3a3a3a" stroke-width="0.7"/>
<path d="M211.54 177.3 L210.24 179.1 L211.54 180.9 L211.44 183.68 L209.54 186.1 L213.94 186.1 L212.04 183.68 L211.94 180.9 L213.24 179.1 L211.94 177.3Z" fill="#c06a48" stroke="#3a2a2a" stroke-width="0.5"/>
<path d="M254.98 182.9 L252.38 186.1 L257.98 186.1 L255.38 182.9Z" fill="#c06a48" stroke="#3a2a2a" stroke-width="0.5"/>
<line x1="262.42" y1="165.1" x2="262.42" y2="186.1" stroke="#3a3a3a" stroke-width="0.7"/>
<path d="M262.22 177.16 L261.22 178.6 L262.22 180.04 L262.12 183.02 L259.62 186.1 L265.22 186.1 L262.72 183.02 L262.62 180.04 L263.62 178.6 L262.62 177.16Z" fill="#c06a48" stroke="#3a2a2a" stroke-width="0.5"/>
<line x1="204.5" y1="190.5" x2="204.5" y2="212.6" stroke="#505050" stroke-width="0.8"/>
<line x1="211.74" y1="189.6" x2="211.74" y2="212.6" stroke="#505050" stroke-width="0.8"/>
<line x1="269.66" y1="200.2" x2="269.66" y2="212.6" stroke="#505050" stroke-width="0.8"/>
<line x1="276.9" y1="202.6" x2="276.9" y2="212.6" stroke="#505050" stroke-width="0.8"/>
<line x1="284.14" y1="206.3" x2="284.14" y2="212.6" stroke="#505050" stroke-width="0.8"/>
<line x1="291.38" y1="202.6" x2="291.38" y2="212.6" stroke="#505050" stroke-width="0.8"/>
<line x1="298.62" y1="202.6" x2="298.62" y2="212.6" stroke="#505050" stroke-width="0.8"/>
<line x1="305.86" y1="198.3" x2="305.86" y2="212.6" stroke="#505050" stroke-width="0.8"/>
<line x1="313.1" y1="197" x2="313.1" y2="212.6" stroke="#505050" stroke-width="0.8"/>
<line x1="320.34" y1="198.3" x2="320.34" y2="212.6" stroke="#505050" stroke-width="0.8"/>
<line x1="211.74" y1="189.6" x2="211.74" y2="212.6" stroke="#3a3a3a" stroke-width="0.7"/>
<path d="M211.54 203.54 L210.94 204.5 L211.54 205.46 L211.44 211 L210.74 212.6 L212.74 212.6 L212.04 211 L211.94 205.46 L212.54 204.5 L211.94 203.54Z" fill="#1fb0bb" stroke="#3a2a2a" stroke-width="0.5"/>
<path d="M218.68 187.8 L217.48 192 L216.18 197 L215.88 200 L216.88 203 L217.08 205 L216.08 207 L217.18 209.5 L217.98 211.5 L217.18 212.6 L220.78 212.6 L219.98 211.5 L220.78 209.5 L221.88 207 L220.88 205 L221.08 203 L222.08 200 L221.78 197 L220.48 192 L219.28 187.8Z" fill="#1fb0bb" stroke="#1f3d40" stroke-width="0.55"/>
<line x1="218.98" y1="187.3" x2="218.98" y2="212.6" stroke="#2a3a3a" stroke-width="0.6"/>
<path d="M225.92 197 L225.32 201 L224.72 206.2 L225.42 209 L225.72 211.5 L225.02 212.6 L227.42 212.6 L226.72 211.5 L227.02 209 L227.72 206.2 L227.12 201 L226.52 197Z" fill="#1fb0bb" stroke="#1f3d40" stroke-width="0.55"/>
<line x1="226.22" y1="196.5" x2="226.22" y2="212.6" stroke="#2a3a3a" stroke-width="0.6"/>
<path d="M233.16 188.7 L231.96 194 L230.86 200.6 L231.86 203.5 L230.96 206.2 L232.26 209 L232.66 211.5 L231.66 212.6 L235.26 212.6 L234.26 211.5 L234.66 209 L235.96 206.2 L235.06 203.5 L236.06 200.6 L234.96 194 L233.76 188.7Z" fill="#1fb0bb" stroke="#1f3d40" stroke-width="0.55"/>
<line x1="233.46" y1="188.2" x2="233.46" y2="212.6" stroke="#2a3a3a" stroke-width="0.6"/>
<path d="M240.4 191.4 L239.3 197 L238.6 203.4 L239.5 207 L239.4 209.5 L240 211.5 L239.2 212.6 L242.2 212.6 L241.4 211.5 L242 209.5 L241.9 207 L242.8 203.4 L242.1 197 L241 191.4Z" fill="#1fb0bb" stroke="#1f3d40" stroke-width="0.55"/>
<line x1="240.7" y1="190.9" x2="240.7" y2="212.6" stroke="#2a3a3a" stroke-width="0.6"/>
<path d="M247.64 188.7 L246.54 194 L245.54 198.8 L246.34 202 L245.44 205.5 L246.54 208.5 L247.14 211.5 L246.14 212.6 L249.74 212.6 L248.74 211.5 L249.34 208.5 L250.44 205.5 L249.54 202 L250.34 198.8 L249.34 194 L248.24 188.7Z" fill="#1fb0bb" stroke="#1f3d40" stroke-width="0.55"/>
<line x1="247.94" y1="188.2" x2="247.94" y2="212.6" stroke="#2a3a3a" stroke-width="0.6"/>
<path d="M254.88 188.7 L253.18 193 L251.98 198.9 L252.38 203.5 L253.58 207.5 L254.48 210.9 L253.68 212.6 L256.68 212.6 L255.88 210.9 L256.78 207.5 L257.98 203.5 L258.38 198.9 L257.18 193 L255.48 188.7Z" fill="#1fb0bb" stroke="#1f3d40" stroke-width="0.55"/>
<line x1="255.18" y1="188.2" x2="255.18" y2="212.6" stroke="#2a3a3a" stroke-width="0.6"/>
<path d="M262.12 189.7 L260.42 195 L259.22 202.6 L260.02 206.5 L261.22 209.5 L261.82 211.5 L260.92 212.6 L263.92 212.6 L263.02 211.5 L263.62 209.5 L264.82 206.5 L265.62 202.6 L264.42 195 L262.72 189.7Z" fill="#1fb0bb" stroke="#1f3d40" stroke-width="0.55"/>
<line x1="262.42" y1="189.2" x2="262.42" y2="212.6" stroke="#2a3a3a" stroke-width="0.6"/>
<text x="206.66" y="219.6" font-size="6" text-anchor="end" font-weight="normal" fill="#262626" stroke="#262626" stroke-width="0.12" transform="rotate(-90 206.66 219.6)">B normal</text>
<text x="213.9" y="219.6" font-size="6" text-anchor="end" font-weight="normal" fill="#262626" stroke="#262626" stroke-width="0.12" transform="rotate(-90 213.9 219.6)">B tumor</text>
<text x="221.14" y="219.6" font-size="6" text-anchor="end" font-weight="normal" fill="#262626" stroke="#262626" stroke-width="0.12" transform="rotate(-90 221.14 219.6)">B tumor PBL</text>
<text x="228.38" y="219.6" font-size="6" text-anchor="end" font-weight="normal" fill="#262626" stroke="#262626" stroke-width="0.12" transform="rotate(-90 228.38 219.6)">CD4+T_naive</text>
<text x="235.62" y="219.6" font-size="6" text-anchor="end" font-weight="normal" fill="#262626" stroke="#262626" stroke-width="0.12" transform="rotate(-90 235.62 219.6)">Treg</text>
<text x="242.86" y="219.6" font-size="6" text-anchor="end" font-weight="normal" fill="#262626" stroke="#262626" stroke-width="0.12" transform="rotate(-90 242.86 219.6)">CD8+T_eff</text>
<text x="250.1" y="219.6" font-size="6" text-anchor="end" font-weight="normal" fill="#262626" stroke="#262626" stroke-width="0.12" transform="rotate(-90 250.1 219.6)">CD8+T_pre_exh</text>
<text x="257.34" y="219.6" font-size="6" text-anchor="end" font-weight="normal" fill="#262626" stroke="#262626" stroke-width="0.12" transform="rotate(-90 257.34 219.6)">CD8+T_exh</text>
<text x="264.58" y="219.6" font-size="6" text-anchor="end" font-weight="normal" fill="#262626" stroke="#262626" stroke-width="0.12" transform="rotate(-90 264.58 219.6)">prolif_T</text>
<text x="271.82" y="219.6" font-size="6" text-anchor="end" font-weight="normal" fill="#262626" stroke="#262626" stroke-width="0.12" transform="rotate(-90 271.82 219.6)">NK</text>
<text x="279.06" y="219.6" font-size="6" text-anchor="end" font-weight="normal" fill="#262626" stroke="#262626" stroke-width="0.12" transform="rotate(-90 279.06 219.6)">Mono_1</text>
<text x="286.3" y="219.6" font-size="6" text-anchor="end" font-weight="normal" fill="#262626" stroke="#262626" stroke-width="0.12" transform="rotate(-90 286.3 219.6)">Mono_2</text>
<text x="293.54" y="219.6" font-size="6" text-anchor="end" font-weight="normal" fill="#262626" stroke="#262626" stroke-width="0.12" transform="rotate(-90 293.54 219.6)">microglia</text>
<text x="300.78" y="219.6" font-size="6" text-anchor="end" font-weight="normal" fill="#262626" stroke="#262626" stroke-width="0.12" transform="rotate(-90 300.78 219.6)">cDC1</text>
<text x="308.02" y="219.6" font-size="6" text-anchor="end" font-weight="normal" fill="#262626" stroke="#262626" stroke-width="0.12" transform="rotate(-90 308.02 219.6)">cDC2/DC3</text>
<text x="315.26" y="219.6" font-size="6" text-anchor="end" font-weight="normal" fill="#262626" stroke="#262626" stroke-width="0.12" transform="rotate(-90 315.26 219.6)">Plasmacytoid_DC</text>
<text x="322.5" y="219.6" font-size="6" text-anchor="end" font-weight="normal" fill="#262626" stroke="#262626" stroke-width="0.12" transform="rotate(-90 322.5 219.6)">Oligodendrocyte</text>
<text x="256.9" y="278.4" font-size="6.5" text-anchor="middle" font-weight="normal" fill="#262626" stroke="#262626" stroke-width="0.12">Cell State</text>
<rect x="211" y="283" width="5.6" height="5.4" fill="#2a72b8"/>
<text x="220.2" y="287.93" font-size="6.2" text-anchor="start" font-weight="normal" fill="#262626" stroke="#262626" stroke-width="0.12">B tumor</text>
<rect x="211" y="290" width="5.6" height="5.4" fill="#3aa23a"/>
<text x="220.2" y="294.93" font-size="6.2" text-anchor="start" font-weight="normal" fill="#262626" stroke="#262626" stroke-width="0.12">B tumor PBL</text>
<rect x="211" y="297" width="5.6" height="5.4" fill="#f68e16"/>
<text x="220.2" y="301.93" font-size="6.2" text-anchor="start" font-weight="normal" fill="#262626" stroke="#262626" stroke-width="0.12">Treg</text>
<rect x="211" y="304" width="5.6" height="5.4" fill="#e77fb4"/>
<text x="220.2" y="308.93" font-size="6.2" text-anchor="start" font-weight="normal" fill="#262626" stroke="#262626" stroke-width="0.12">CD8+T_eff</text>
<rect x="260.3" y="283" width="5.6" height="5.4" fill="#c8a6d8"/>
<text x="269.5" y="287.93" font-size="6.2" text-anchor="start" font-weight="normal" fill="#262626" stroke="#262626" stroke-width="0.12">CD8+T_pre_exh</text>
<rect x="260.3" y="290" width="5.6" height="5.4" fill="#ad4a1c"/>
<text x="269.5" y="294.93" font-size="6.2" text-anchor="start" font-weight="normal" fill="#262626" stroke="#262626" stroke-width="0.12">CD8+T_exh</text>
<rect x="260.3" y="297" width="5.6" height="5.4" fill="#4db0e2"/>
<text x="269.5" y="301.93" font-size="6.2" text-anchor="start" font-weight="normal" fill="#262626" stroke="#262626" stroke-width="0.12">prolif_T</text>
<line x1="368.9" y1="160.7" x2="368.9" y2="212.6" stroke="#1a1a1a" stroke-width="1"/>
<line x1="366.9" y1="161" x2="368.9" y2="161" stroke="#1a1a1a" stroke-width="0.8"/>
<line x1="366.9" y1="165.7" x2="368.9" y2="165.7" stroke="#1a1a1a" stroke-width="0.8"/>
<line x1="366.9" y1="170.3" x2="368.9" y2="170.3" stroke="#1a1a1a" stroke-width="0.8"/>
<line x1="366.9" y1="174.6" x2="368.9" y2="174.6" stroke="#1a1a1a" stroke-width="0.8"/>
<line x1="366.9" y1="178.7" x2="368.9" y2="178.7" stroke="#1a1a1a" stroke-width="0.8"/>
<line x1="366.9" y1="182.8" x2="368.9" y2="182.8" stroke="#1a1a1a" stroke-width="0.8"/>
<line x1="366.9" y1="189" x2="368.9" y2="189" stroke="#1a1a1a" stroke-width="0.8"/>
<line x1="366.9" y1="193.6" x2="368.9" y2="193.6" stroke="#1a1a1a" stroke-width="0.8"/>
<line x1="366.9" y1="198.3" x2="368.9" y2="198.3" stroke="#1a1a1a" stroke-width="0.8"/>
<line x1="366.9" y1="202.9" x2="368.9" y2="202.9" stroke="#1a1a1a" stroke-width="0.8"/>
<line x1="366.9" y1="207.5" x2="368.9" y2="207.5" stroke="#1a1a1a" stroke-width="0.8"/>
<line x1="368.9" y1="186.2" x2="492.5" y2="186.2" stroke="#1a1a1a" stroke-width="1.0"/>
<line x1="368.9" y1="212.6" x2="492.5" y2="212.6" stroke="#1a1a1a" stroke-width="1.0"/>
<line x1="372.6" y1="212.6" x2="372.6" y2="214.8" stroke="#1a1a1a" stroke-width="0.8"/>
<line x1="379.84" y1="212.6" x2="379.84" y2="214.8" stroke="#1a1a1a" stroke-width="0.8"/>
<line x1="387.08" y1="212.6" x2="387.08" y2="214.8" stroke="#1a1a1a" stroke-width="0.8"/>
<line x1="394.32" y1="212.6" x2="394.32" y2="214.8" stroke="#1a1a1a" stroke-width="0.8"/>
<line x1="401.56" y1="212.6" x2="401.56" y2="214.8" stroke="#1a1a1a" stroke-width="0.8"/>
<line x1="408.8" y1="212.6" x2="408.8" y2="214.8" stroke="#1a1a1a" stroke-width="0.8"/>
<line x1="416.04" y1="212.6" x2="416.04" y2="214.8" stroke="#1a1a1a" stroke-width="0.8"/>
<line x1="423.28" y1="212.6" x2="423.28" y2="214.8" stroke="#1a1a1a" stroke-width="0.8"/>
<line x1="430.52" y1="212.6" x2="430.52" y2="214.8" stroke="#1a1a1a" stroke-width="0.8"/>
<line x1="437.76" y1="212.6" x2="437.76" y2="214.8" stroke="#1a1a1a" stroke-width="0.8"/>
<line x1="445" y1="212.6" x2="445" y2="214.8" stroke="#1a1a1a" stroke-width="0.8"/>
<line x1="452.24" y1="212.6" x2="452.24" y2="214.8" stroke="#1a1a1a" stroke-width="0.8"/>
<line x1="459.48" y1="212.6" x2="459.48" y2="214.8" stroke="#1a1a1a" stroke-width="0.8"/>
<line x1="466.72" y1="212.6" x2="466.72" y2="214.8" stroke="#1a1a1a" stroke-width="0.8"/>
<line x1="473.96" y1="212.6" x2="473.96" y2="214.8" stroke="#1a1a1a" stroke-width="0.8"/>
<line x1="481.2" y1="212.6" x2="481.2" y2="214.8" stroke="#1a1a1a" stroke-width="0.8"/>
<line x1="488.44" y1="212.6" x2="488.44" y2="214.8" stroke="#1a1a1a" stroke-width="0.8"/>
<text x="363.4" y="172.4" font-size="6" text-anchor="end" font-weight="normal" fill="#262626" stroke="#262626" stroke-width="0.12">4</text>
<text x="363.4" y="195.7" font-size="6" text-anchor="end" font-weight="normal" fill="#262626" stroke="#262626" stroke-width="0.12">3</text>
<text x="496.5" y="175.2" font-size="6" text-anchor="start" font-weight="normal" fill="#262626" stroke="#262626" stroke-width="0.12">SPP1</text>
<text x="496.5" y="201.5" font-size="6" text-anchor="start" font-weight="normal" fill="#262626" stroke="#262626" stroke-width="0.12">CD44</text>
<line x1="372.6" y1="181.7" x2="372.6" y2="186.2" stroke="#505050" stroke-width="0.8"/>
<line x1="379.84" y1="176.3" x2="379.84" y2="186.2" stroke="#505050" stroke-width="0.8"/>
<line x1="387.08" y1="178.5" x2="387.08" y2="186.2" stroke="#505050" stroke-width="0.8"/>
<line x1="394.32" y1="178.5" x2="394.32" y2="186.2" stroke="#505050" stroke-width="0.8"/>
<line x1="401.56" y1="180" x2="401.56" y2="186.2" stroke="#505050" stroke-width="0.8"/>
<line x1="408.8" y1="180" x2="408.8" y2="186.2" stroke="#505050" stroke-width="0.8"/>
<line x1="416.04" y1="180.4" x2="416.04" y2="186.2" stroke="#505050" stroke-width="0.8"/>
<line x1="423.28" y1="183.2" x2="423.28" y2="186.2" stroke="#505050" stroke-width="0.8"/>
<line x1="430.52" y1="183.2" x2="430.52" y2="186.2" stroke="#505050" stroke-width="0.8"/>
<line x1="437.76" y1="181.7" x2="437.76" y2="186.2" stroke="#505050" stroke-width="0.8"/>
<line x1="445" y1="160.1" x2="445" y2="186.2" stroke="#505050" stroke-width="0.8"/>
<line x1="452.24" y1="163.8" x2="452.24" y2="186.2" stroke="#505050" stroke-width="0.8"/>
<line x1="466.72" y1="183.2" x2="466.72" y2="186.2" stroke="#505050" stroke-width="0.8"/>
<line x1="473.96" y1="170.8" x2="473.96" y2="186.2" stroke="#505050" stroke-width="0.8"/>
<line x1="481.2" y1="181.4" x2="481.2" y2="186.2" stroke="#505050" stroke-width="0.8"/>
<path d="M452.04 184.4 L450.44 186.2 L454.04 186.2 L452.44 184.4Z" fill="#e06060" stroke="#3a2a2a" stroke-width="0.5"/>
<path d="M459.28 159.6 L458.98 170 L458.48 176 L457.68 180 L456.68 183.5 L457.08 185.2 L458.28 186.2 L460.68 186.2 L461.88 185.2 L462.28 183.5 L461.28 180 L460.48 176 L459.98 170 L459.68 159.6Z" fill="#f06464" stroke="#3a2a2a" stroke-width="0.5"/>
<path d="M488.24 167.5 L486.64 170.5 L485.14 174.9 L486.04 178.5 L487.64 182.5 L488.14 185.2 L488.24 186.2 L488.64 186.2 L488.74 185.2 L489.24 182.5 L490.84 178.5 L491.74 174.9 L490.24 170.5 L488.64 167.5Z" fill="#f06464" stroke="#3a2a2a" stroke-width="0.5"/>
<line x1="466.72" y1="202.6" x2="466.72" y2="212.6" stroke="#505050" stroke-width="0.8"/>
<line x1="372.6" y1="198.3" x2="372.6" y2="212.6" stroke="#2a3a3a" stroke-width="0.7"/>
<path d="M372.4 198.3 L372.25 204.23 L371.9 205 L372.25 205.77 L372.25 207.28 L371.4 208.6 L372.25 209.92 L372.2 211.8 L371.6 212.6 L373.6 212.6 L373 211.8 L372.95 209.92 L373.8 208.6 L372.95 207.28 L372.95 205.77 L373.3 205 L372.95 204.23 L372.8 198.3Z" fill="#1fb0bb" stroke="#1f3d40" stroke-width="0.5"/>
<line x1="379.84" y1="187.8" x2="379.84" y2="212.6" stroke="#8a8a8a" stroke-width="1.4"/>
<line x1="379.84" y1="191" x2="379.84" y2="212.6" stroke="#555" stroke-width="0.6"/>
<path d="M379.64 191 L379.49 202.28 L378.64 203.6 L379.49 204.92 L379.49 204.84 L378.24 206.6 L379.49 208.36 L379.49 207.77 L378.54 209.2 L379.49 210.63 L379.44 211.8 L378.84 212.6 L380.84 212.6 L380.24 211.8 L380.19 210.63 L381.14 209.2 L380.19 207.77 L380.19 208.36 L381.44 206.6 L380.19 204.84 L380.19 204.92 L381.04 203.6 L380.19 202.28 L380.04 191Z" fill="#1fb0bb" stroke="#1f3d40" stroke-width="0.5"/>
<line x1="387.08" y1="191.4" x2="387.08" y2="212.6" stroke="#2a3a3a" stroke-width="0.7"/>
<path d="M386.88 191.4 L386.73 204.1 L386.08 205.2 L386.73 206.3 L386.73 206.54 L385.48 208.3 L386.73 210.06 L386.68 211.8 L386.08 212.6 L388.08 212.6 L387.48 211.8 L387.43 210.06 L388.68 208.3 L387.43 206.54 L387.43 206.3 L388.08 205.2 L387.43 204.1 L387.28 191.4Z" fill="#1fb0bb" stroke="#1f3d40" stroke-width="0.5"/>
<path d="M394.17 198.3 L393.11 200.23 L391.76 203.25 L391.62 203.8 L392.7 206.88 L393.32 210.4 L393.06 212 L392.52 212.6 L396.12 212.6 L395.58 212 L395.32 210.4 L395.94 206.88 L397.02 203.8 L396.89 203.25 L395.54 200.23 L394.47 198.3Z" fill="#1fb0bb" stroke="#1f3d40" stroke-width="0.5"/>
<path d="M401.41 198.3 L400.35 200.23 L399 203.25 L398.86 203.8 L399.94 206.88 L400.56 210.4 L400.3 212 L399.76 212.6 L403.36 212.6 L402.82 212 L402.56 210.4 L403.18 206.88 L404.26 203.8 L404.12 203.25 L402.77 200.23 L401.71 198.3Z" fill="#1fb0bb" stroke="#1f3d40" stroke-width="0.5"/>
<path d="M408.65 197 L407.45 199.24 L405.95 202.76 L405.8 203.4 L407 206.62 L407.8 210.3 L407.54 212 L407 212.6 L410.6 212.6 L410.06 212 L409.8 210.3 L410.6 206.62 L411.8 203.4 L411.65 202.76 L410.15 199.24 L408.95 197Z" fill="#1fb0bb" stroke="#1f3d40" stroke-width="0.5"/>
<path d="M415.89 195.1 L414.69 198.32 L413.19 203.38 L413.04 204.3 L414.24 207.21 L415.04 210.53 L414.78 212 L414.24 212.6 L417.84 212.6 L417.3 212 L417.04 210.53 L417.84 207.21 L419.04 204.3 L418.89 203.38 L417.39 198.32 L416.19 195.1Z" fill="#1fb0bb" stroke="#1f3d40" stroke-width="0.5"/>
<path d="M423.13 198.3 L422.47 200.78 L421.57 204.69 L421.48 205.4 L422.2 207.92 L422.68 210.8 L422.3 212 L421.88 212.6 L424.68 212.6 L424.26 212 L423.88 210.8 L424.36 207.92 L425.08 205.4 L424.99 204.69 L424.09 200.78 L423.43 198.3Z" fill="#1fb0bb" stroke="#1f3d40" stroke-width="0.5"/>
<path d="M430.37 200.2 L429.85 202.65 L429.1 206.5 L429.02 207.2 L429.62 209.09 L430.02 211.25 L429.68 212 L429.32 212.6 L431.72 212.6 L431.36 212 L431.02 211.25 L431.42 209.09 L432.02 207.2 L431.95 206.5 L431.2 202.65 L430.67 200.2Z" fill="#1fb0bb" stroke="#1f3d40" stroke-width="0.5"/>
<path d="M437.61 197 L436.68 199.59 L435.48 203.66 L435.36 204.4 L436.32 207.27 L436.96 210.55 L436.64 212 L436.16 212.6 L439.36 212.6 L438.88 212 L438.56 210.55 L439.2 207.27 L440.16 204.4 L440.04 203.66 L438.84 199.59 L437.91 197Z" fill="#1fb0bb" stroke="#1f3d40" stroke-width="0.5"/>
<path d="M444.85 191.5 L443.51 195.38 L441.87 201.49 L441.7 202.6 L443.02 206.1 L444 210.1 L443.74 212 L443.2 212.6 L446.8 212.6 L446.26 212 L446 210.1 L446.98 206.1 L448.3 202.6 L448.13 201.49 L446.49 195.38 L445.15 191.5Z" fill="#1fb0bb" stroke="#1f3d40" stroke-width="0.5"/>
<path d="M452.09 186.9 L450.75 189.49 L449.11 193.56 L448.94 194.3 L450.26 200.71 L451.74 208.03 L451.19 212 L450.74 212.6 L453.74 212.6 L453.29 212 L452.74 208.03 L454.22 200.71 L455.54 194.3 L455.38 193.56 L453.73 189.49 L452.39 186.9Z" fill="#1fb0bb" stroke="#1f3d40" stroke-width="0.5"/>
<path d="M459.33 193.4 L458.13 196.62 L456.63 201.68 L456.48 202.6 L457.68 206.1 L458.48 210.1 L458.22 212 L457.68 212.6 L461.28 212.6 L460.74 212 L460.48 210.1 L461.28 206.1 L462.48 202.6 L462.33 201.68 L460.83 196.62 L459.63 193.4Z" fill="#1fb0bb" stroke="#1f3d40" stroke-width="0.5"/>
<path d="M473.81 191 L472.61 195.06 L471.11 201.44 L470.96 202.6 L472.16 206.1 L472.96 210.1 L472.7 212 L472.16 212.6 L475.76 212.6 L475.22 212 L474.96 210.1 L475.76 206.1 L476.96 202.6 L476.81 201.44 L475.31 195.06 L474.11 191Z" fill="#1fb0bb" stroke="#1f3d40" stroke-width="0.5"/>
<line x1="481.2" y1="199.8" x2="481.2" y2="212.6" stroke="#3a3a3a" stroke-width="0.7"/>
<path d="M481 207.5 L480.2 208.7 L481 209.9 L480.9 211 L480.2 212.6 L482.2 212.6 L481.5 211 L481.4 209.9 L482.2 208.7 L481.4 207.5Z" fill="#1fb0bb" stroke="#3a2a2a" stroke-width="0.5"/>
<line x1="488.44" y1="195.2" x2="488.44" y2="212.6" stroke="#3a3a3a" stroke-width="0.7"/>
<path d="M488.24 207.5 L487.44 208.7 L488.24 209.9 L488.14 211 L487.44 212.6 L489.44 212.6 L488.74 211 L488.64 209.9 L489.44 208.7 L488.64 207.5Z" fill="#1fb0bb" stroke="#3a2a2a" stroke-width="0.5"/>
<text x="374.76" y="219.6" font-size="6" text-anchor="end" font-weight="normal" fill="#262626" stroke="#262626" stroke-width="0.12" transform="rotate(-90 374.76 219.6)">B normal</text>
<text x="382" y="219.6" font-size="6" text-anchor="end" font-weight="normal" fill="#262626" stroke="#262626" stroke-width="0.12" transform="rotate(-90 382 219.6)">B tumor</text>
<text x="389.24" y="219.6" font-size="6" text-anchor="end" font-weight="normal" fill="#262626" stroke="#262626" stroke-width="0.12" transform="rotate(-90 389.24 219.6)">B tumor PBL</text>
<text x="396.48" y="219.6" font-size="6" text-anchor="end" font-weight="normal" fill="#262626" stroke="#262626" stroke-width="0.12" transform="rotate(-90 396.48 219.6)">CD4+T_naive</text>
<text x="403.72" y="219.6" font-size="6" text-anchor="end" font-weight="normal" fill="#262626" stroke="#262626" stroke-width="0.12" transform="rotate(-90 403.72 219.6)">Treg</text>
<text x="410.96" y="219.6" font-size="6" text-anchor="end" font-weight="normal" fill="#262626" stroke="#262626" stroke-width="0.12" transform="rotate(-90 410.96 219.6)">CD8+T_eff</text>
<text x="418.2" y="219.6" font-size="6" text-anchor="end" font-weight="normal" fill="#262626" stroke="#262626" stroke-width="0.12" transform="rotate(-90 418.2 219.6)">CD8+T_pre_exh</text>
<text x="425.44" y="219.6" font-size="6" text-anchor="end" font-weight="normal" fill="#262626" stroke="#262626" stroke-width="0.12" transform="rotate(-90 425.44 219.6)">CD8+T_exh</text>
<text x="432.68" y="219.6" font-size="6" text-anchor="end" font-weight="normal" fill="#262626" stroke="#262626" stroke-width="0.12" transform="rotate(-90 432.68 219.6)">prolif_T</text>
<text x="439.92" y="219.6" font-size="6" text-anchor="end" font-weight="normal" fill="#262626" stroke="#262626" stroke-width="0.12" transform="rotate(-90 439.92 219.6)">NK</text>
<text x="447.16" y="219.6" font-size="6" text-anchor="end" font-weight="normal" fill="#262626" stroke="#262626" stroke-width="0.12" transform="rotate(-90 447.16 219.6)">Mono_1</text>
<text x="454.4" y="219.6" font-size="6" text-anchor="end" font-weight="normal" fill="#262626" stroke="#262626" stroke-width="0.12" transform="rotate(-90 454.4 219.6)">Mono_2</text>
<text x="461.64" y="219.6" font-size="6" text-anchor="end" font-weight="normal" fill="#262626" stroke="#262626" stroke-width="0.12" transform="rotate(-90 461.64 219.6)">microglia</text>
<text x="468.88" y="219.6" font-size="6" text-anchor="end" font-weight="normal" fill="#262626" stroke="#262626" stroke-width="0.12" transform="rotate(-90 468.88 219.6)">cDC1</text>
<text x="476.12" y="219.6" font-size="6" text-anchor="end" font-weight="normal" fill="#262626" stroke="#262626" stroke-width="0.12" transform="rotate(-90 476.12 219.6)">cDC2/DC3</text>
<text x="483.36" y="219.6" font-size="6" text-anchor="end" font-weight="normal" fill="#262626" stroke="#262626" stroke-width="0.12" transform="rotate(-90 483.36 219.6)">Plasmacytoid_DC</text>
<text x="490.6" y="219.6" font-size="6" text-anchor="end" font-weight="normal" fill="#262626" stroke="#262626" stroke-width="0.12" transform="rotate(-90 490.6 219.6)">Oligodendrocyte</text>
<text x="419" y="278.2" font-size="6.5" text-anchor="middle" font-weight="normal" fill="#262626" stroke="#262626" stroke-width="0.12">Cell State</text>
<rect x="379.3" y="283" width="5.6" height="5.4" fill="#e31a1c"/>
<text x="388" y="287.93" font-size="6.2" text-anchor="start" font-weight="normal" fill="#262626" stroke="#262626" stroke-width="0.12">B normal</text>
<rect x="379.3" y="290.1" width="5.6" height="5.4" fill="#2a72b8"/>
<text x="388" y="295.03" font-size="6.2" text-anchor="start" font-weight="normal" fill="#262626" stroke="#262626" stroke-width="0.12">B tumor</text>
<rect x="379.3" y="297.2" width="5.6" height="5.4" fill="#3aa23a"/>
<text x="388" y="302.13" font-size="6.2" text-anchor="start" font-weight="normal" fill="#262626" stroke="#262626" stroke-width="0.12">B tumor PBL</text>
<rect x="429.1" y="283" width="5.6" height="5.4" fill="#c6d8a4"/>
<text x="437.6" y="287.93" font-size="6.2" text-anchor="start" font-weight="normal" fill="#262626" stroke="#262626" stroke-width="0.12">Mono_2</text>
<rect x="429.1" y="290.1" width="5.6" height="5.4" fill="#e8b000"/>
<text x="437.6" y="295.03" font-size="6.2" text-anchor="start" font-weight="normal" fill="#262626" stroke="#262626" stroke-width="0.12">microglia</text>
<rect x="429.1" y="297.2" width="5.6" height="5.4" fill="#3aa8da"/>
<text x="437.6" y="302.13" font-size="6.2" text-anchor="start" font-weight="normal" fill="#262626" stroke="#262626" stroke-width="0.12">Oligodendrocyte</text>
</g>
<rect x="0" y="0" width="520" height="1" fill="#5a5a5a"/>
<rect x="0" y="0" width="1" height="369" fill="#5a5a5a"/>
<rect x="518.6" y="0" width="1.4" height="369" fill="#5a5a5a"/>
<rect x="0" y="367.6" width="520" height="1.4" fill="#5a5a5a"/>
</svg>
</body></html>
